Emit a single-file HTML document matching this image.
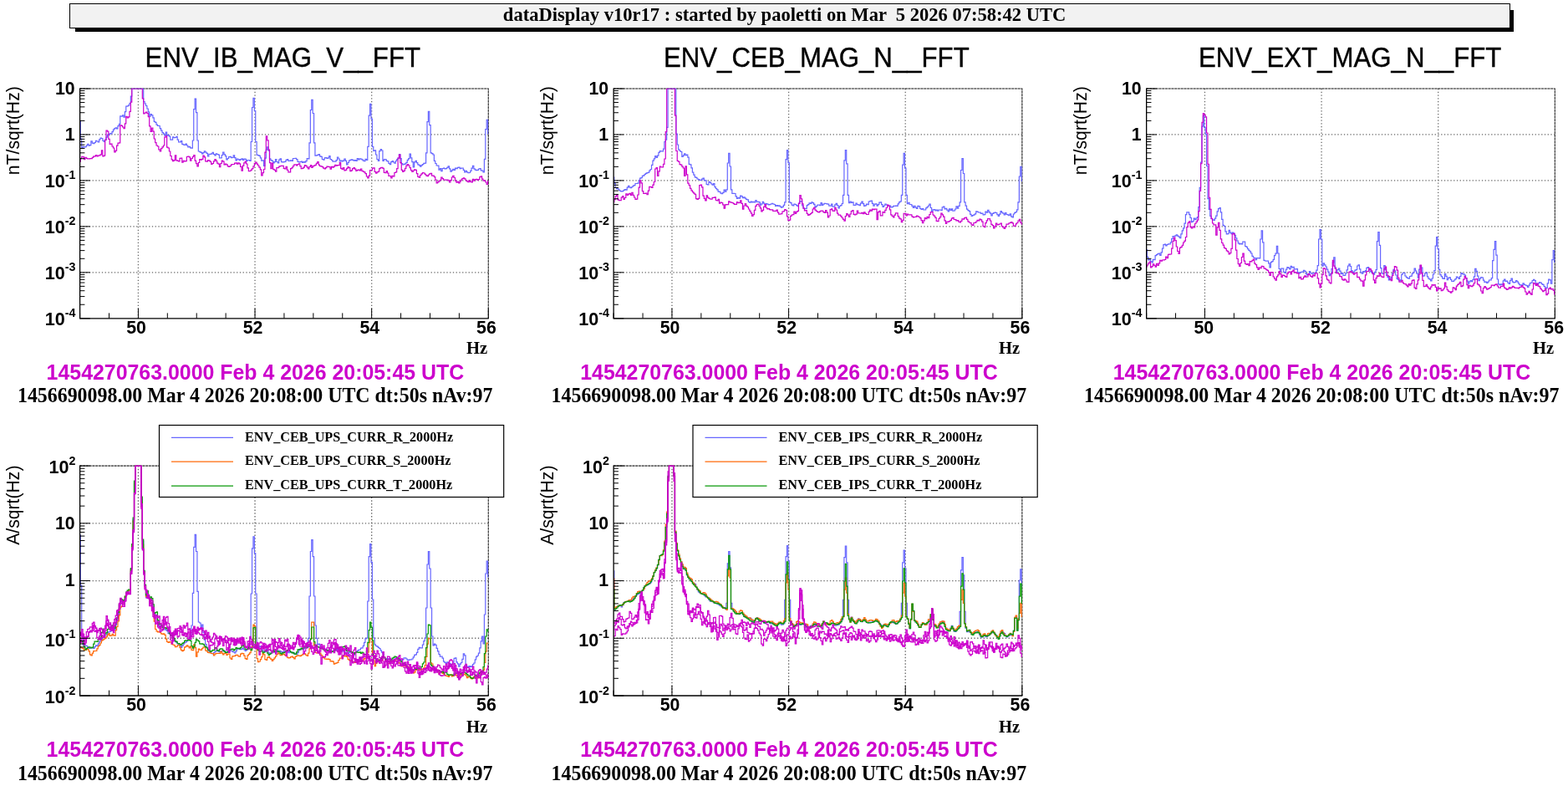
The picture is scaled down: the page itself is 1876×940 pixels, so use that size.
<!DOCTYPE html>
<html lang="en"><head><meta charset="utf-8"><title>dataDisplay</title>
<style>
html,body{margin:0;padding:0;background:#fff;}
body{width:1876px;height:940px;overflow:hidden;}
svg{display:block;}
text{fill:#000;}
.hd{font:bold 22.55px "Liberation Serif",serif;white-space:pre;}
.ti{font:31.2px "Liberation Sans",sans-serif;stroke:#000;stroke-width:0.35px;}
.tk{font:bold 21.3px "Liberation Sans",sans-serif;}
.te{font-size:21.6px;}
.ex{font-size:14.3px;}
.yt{font:21.2px "Liberation Sans",sans-serif;}
.hz{font:bold 20.6px "Liberation Serif",serif;}
.f1{font:bold 24.9px "Liberation Sans",sans-serif;fill:#cc00cc;}
.f2{font:bold 23.9px "Liberation Serif",serif;}
.lg{font:bold 16.2px "Liberation Serif",serif;}
</style></head><body>
<svg width="1876" height="940" viewBox="0 0 1876 940">
<defs>
<clipPath id="c0"><rect x="95.60" y="105.50" width="489.20" height="275.80"/></clipPath>
<clipPath id="c1"><rect x="734.15" y="105.50" width="489.20" height="275.80"/></clipPath>
<clipPath id="c2"><rect x="1371.65" y="105.50" width="489.20" height="275.80"/></clipPath>
<clipPath id="c3"><rect x="95.60" y="556.60" width="489.20" height="275.90"/></clipPath>
<clipPath id="c4"><rect x="734.15" y="556.60" width="489.20" height="275.90"/></clipPath>
</defs>
<rect x="90" y="12" width="1721" height="26" fill="#000"/>
<rect x="83.5" y="4.5" width="1723" height="29" fill="#f2f2f2" stroke="#000" stroke-width="1"/>
<text x="938.6" y="25.3" class="hd" text-anchor="middle" xml:space="preserve">dataDisplay v10r17 : started by paoletti on Mar  5 2026 07:58:42 UTC</text>
<g fill="none">
<path d="M95.60 160.96H584.30M95.60 215.92H584.30M95.60 270.88H584.30M95.60 325.84H584.30M165.41 106.00V380.80M305.04 106.00V380.80M444.67 106.00V380.80" stroke="#000" stroke-opacity="0.6" stroke-width="1.3" stroke-dasharray="1.3 2.45"/>
<path d="M95.60 106.00H584.30V380.80" stroke="#000" stroke-opacity="0.4" stroke-width="1"/>
<path d="M95.60 106.00H584.30V380.80" stroke="#000" stroke-opacity="0.7" stroke-width="1.1" stroke-dasharray="2.6 1.15"/>
</g>
<g fill="none" clip-path="url(#c0)">
<path d="M95.60 145.6H96.30V166.0H97.69V176.7H99.09V175.3H100.49V175.8H101.88V175.6H103.28V173.9H104.68V172.3H106.07V174.2H107.47V173.7H108.86V168.9H110.26V171.2H111.66V171.6H113.05V170.5H114.45V168.3H115.85V169.0H117.24V170.0H118.64V166.9H120.03V165.2H121.43V165.5H122.83V168.1H124.22V169.4H125.62V167.2H127.02V164.2H128.41V161.1H129.81V161.4H131.21V159.6H132.60V159.8H134.00V157.7H135.39V155.2H136.79V153.7H138.19V152.9H139.58V153.8H140.98V150.7H142.38V148.3H143.77V138.9H145.17V139.1H146.56V137.8H147.96V140.2H149.36V133.6H150.75V127.2H152.15V126.8H153.55V125.9H154.94V123.5H156.34V115.1H157.73V106.0H159.13V106.0H160.53V106.0H161.92V106.0H163.32V106.0H164.72V106.0H166.11V106.0H167.51V106.0H168.91V106.0H170.30V106.0H171.70V121.5H173.09V124.0H174.49V126.5H175.89V130.0H177.28V133.8H178.68V139.2H180.08V136.6H181.47V137.8H182.87V140.8H184.26V145.3H185.66V146.4H187.06V149.1H188.45V150.4H189.85V150.5H191.25V153.6H192.64V156.1H194.04V158.7H195.43V160.2H196.83V162.1H198.23V158.0H199.62V162.1H201.02V161.7H202.42V163.1H203.81V167.1H205.21V167.2H206.60V163.9H208.00V164.7H209.40V164.5H210.79V163.4H212.19V167.2H213.59V170.0H214.98V169.9H216.38V168.7H217.78V172.4H219.17V173.1H220.57V173.4H221.96V172.1H223.36V174.0H224.76V175.8H226.15V175.3H227.55V176.8H228.95V177.1H230.34V168.0H231.74V130.7H233.13V118.1H234.53V134.7H235.93V168.0H237.32V181.0H238.72V181.6H240.12V182.3H241.51V183.9H242.91V182.7H244.30V180.9H245.70V182.2H247.10V183.3H248.49V186.8H249.89V184.3H251.29V184.3H252.68V183.8H254.08V182.3H255.47V184.5H256.87V185.8H258.27V183.9H259.66V184.5H261.06V185.2H262.46V189.0H263.85V188.8H265.25V185.5H266.64V182.0H268.04V184.6H269.44V186.7H270.83V190.9H272.23V189.5H273.63V187.7H275.02V187.3H276.42V188.6H277.82V188.4H279.21V185.9H280.61V188.6H282.00V191.8H283.40V190.0H284.80V190.7H286.19V191.6H287.59V190.7H288.99V189.8H290.38V191.3H291.78V190.2H293.17V190.3H294.57V192.7H295.97V191.5H297.36V191.5H298.76V192.4H300.16V169.5H301.55V128.5H302.95V117.3H304.34V132.5H305.74V169.5H307.14V185.4H308.53V185.7H309.93V186.3H311.33V188.8H312.72V192.1H314.12V191.8H315.51V198.5H316.91V189.1H318.31V179.1H319.70V175.8H321.10V180.1H322.50V189.8H323.89V191.7H325.29V192.4H326.69V194.8H328.08V193.6H329.48V190.6H330.87V193.5H332.27V194.8H333.67V191.1H335.06V189.8H336.46V193.7H337.86V194.0H339.25V193.6H340.65V193.4H342.04V191.4H343.44V190.7H344.84V192.3H346.23V192.4H347.63V191.8H349.03V192.3H350.42V189.5H351.82V189.5H353.21V189.3H354.61V190.7H356.01V193.4H357.40V193.8H358.80V193.6H360.20V193.1H361.59V194.3H362.99V193.5H364.38V194.1H365.78V192.6H367.18V189.6H368.57V189.8H369.97V170.9H371.37V131.5H372.76V119.3H374.16V135.5H375.56V170.9H376.95V186.2H378.35V185.8H379.74V185.3H381.14V184.7H382.54V186.8H383.93V187.4H385.33V190.5H386.73V191.1H388.12V188.8H389.52V188.7H390.91V189.5H392.31V188.8H393.71V186.6H395.10V190.5H396.50V191.5H397.90V193.2H399.29V193.1H400.69V193.2H402.08V191.7H403.48V188.0H404.88V190.0H406.27V192.8H407.67V192.2H409.07V192.8H410.46V192.2H411.86V190.1H413.25V192.3H414.65V196.8H416.05V194.5H417.44V192.2H418.84V191.3H420.24V190.8H421.63V191.4H423.03V192.1H424.43V191.7H425.82V192.4H427.22V189.5H428.61V190.9H430.01V189.9H431.41V190.1H432.80V190.9H434.20V192.2H435.60V192.6H436.99V190.4H438.39V191.4H439.78V175.4H441.18V138.2H442.58V124.3H443.97V142.2H445.37V175.4H446.77V180.4H448.16V179.9H449.56V185.0H450.95V190.5H452.35V192.4H453.75V180.6H455.14V178.7H456.54V180.0H457.94V192.3H459.33V190.5H460.73V190.7H462.12V192.3H463.52V192.8H464.92V195.4H466.31V196.7H467.71V193.6H469.11V192.6H470.50V194.0H471.90V195.1H473.30V192.5H474.69V190.6H476.09V189.1H477.48V184.6H478.88V189.7H480.28V195.5H481.67V197.0H483.07V196.4H484.47V195.8H485.86V194.4H487.26V191.4H488.65V189.6H490.05V184.0H491.45V188.9H492.84V193.7H494.24V199.8H495.64V193.9H497.03V192.4H498.43V194.6H499.82V196.8H501.22V197.6H502.62V199.1H504.01V197.7H505.41V196.6H506.81V195.4H508.20V195.1H509.60V182.9H511.00V145.6H512.39V133.3H513.79V149.6H515.18V182.9H516.58V183.7H517.98V185.0H519.37V192.3H520.77V195.5H522.17V198.0H523.56V198.1H524.96V203.2H526.35V201.6H527.75V204.7H529.15V201.5H530.54V201.2H531.94V201.9H533.34V201.7H534.73V200.3H536.13V198.9H537.52V201.8H538.92V205.1H540.32V203.8H541.71V202.3H543.11V203.5H544.51V201.1H545.90V201.6H547.30V200.3H548.69V200.2H550.09V201.7H551.49V201.2H552.88V201.0H554.28V203.3H555.68V205.8H557.07V204.4H558.47V205.9H559.87V206.7H561.26V206.5H562.66V204.4H564.05V201.2H565.45V198.4H566.85V201.8H568.24V203.1H569.64V203.6H571.04V203.4H572.43V202.0H573.83V201.6H575.22V203.8H576.62V204.1H578.02V205.8H579.41V190.3H580.81V154.6H582.21V143.4H583.60V159.8H584.30" stroke="#6666ff" stroke-width="1.2"/>
<path d="M95.60 193.2H96.30V189.7H97.69V187.4H99.09V187.7H100.49V190.6H101.88V188.3H103.28V189.3H104.68V189.9H106.07V189.9H107.47V189.6H108.86V189.7H110.26V188.4H111.66V187.1H113.05V186.9H114.45V185.5H115.85V186.9H117.24V186.2H118.64V185.8H120.03V184.9H121.43V179.9H122.83V187.0H124.22V186.2H125.62V167.5H127.02V156.0H128.41V157.2H129.81V166.4H131.21V172.5H132.60V172.1H134.00V175.0H135.39V177.0H136.79V182.0H138.19V180.2H139.58V174.1H140.98V171.1H142.38V170.8H143.77V149.9H145.17V150.3H146.56V152.0H147.96V153.6H149.36V147.8H150.75V139.4H152.15V141.0H153.55V139.8H154.94V133.3H156.34V122.1H157.73V106.0H159.13V106.0H160.53V106.0H161.92V106.0H163.32V106.0H164.72V106.0H166.11V106.0H167.51V106.0H168.91V106.0H170.30V117.8H171.70V135.9H173.09V135.0H174.49V134.1H175.89V135.5H177.28V139.7H178.68V150.8H180.08V157.5H181.47V153.0H182.87V157.2H184.26V166.0H185.66V170.6H187.06V174.0H188.45V175.0H189.85V178.8H191.25V180.9H192.64V177.6H194.04V175.8H195.43V174.0H196.83V164.1H198.23V162.5H199.62V176.1H201.02V177.0H202.42V181.0H203.81V186.5H205.21V190.8H206.60V192.7H208.00V191.7H209.40V185.9H210.79V191.9H212.19V192.4H213.59V192.9H214.98V189.4H216.38V189.0H217.78V194.1H219.17V192.3H220.57V192.9H221.96V192.7H223.36V187.5H224.76V187.0H226.15V187.9H227.55V192.2H228.95V189.5H230.34V187.5H231.74V185.7H233.13V192.1H234.53V195.7H235.93V198.8H237.32V194.5H238.72V190.6H240.12V191.1H241.51V190.3H242.91V186.1H244.30V187.8H245.70V192.9H247.10V193.1H248.49V191.5H249.89V192.1H251.29V193.3H252.68V196.4H254.08V195.5H255.47V192.9H256.87V190.7H258.27V192.4H259.66V195.1H261.06V196.2H262.46V199.6H263.85V195.5H265.25V192.0H266.64V193.1H268.04V196.8H269.44V196.1H270.83V196.8H272.23V198.8H273.63V199.5H275.02V198.5H276.42V196.9H277.82V196.5H279.21V196.5H280.61V195.1H282.00V194.8H283.40V196.2H284.80V194.9H286.19V195.8H287.59V199.3H288.99V204.1H290.38V198.2H291.78V194.8H293.17V193.2H294.57V196.0H295.97V200.9H297.36V204.6H298.76V204.5H300.16V203.1H301.55V201.7H302.95V198.8H304.34V195.4H305.74V194.2H307.14V196.1H308.53V198.0H309.93V200.1H311.33V202.8H312.72V209.8H314.12V206.7H315.51V202.5H316.91V182.1H318.31V162.8H319.70V167.8H321.10V179.1H322.50V194.6H323.89V201.7H325.29V195.1H326.69V202.4H328.08V203.4H329.48V205.2H330.87V200.5H332.27V200.7H333.67V199.1H335.06V198.5H336.46V198.3H337.86V198.4H339.25V201.4H340.65V201.9H342.04V199.3H343.44V203.4H344.84V205.8H346.23V205.9H347.63V201.6H349.03V200.6H350.42V198.7H351.82V196.8H353.21V196.9H354.61V197.9H356.01V196.5H357.40V195.9H358.80V198.7H360.20V201.7H361.59V201.4H362.99V200.2H364.38V197.7H365.78V198.3H367.18V200.2H368.57V201.9H369.97V199.5H371.37V197.6H372.76V200.5H374.16V198.7H375.56V198.2H376.95V197.3H378.35V195.3H379.74V193.6H381.14V197.1H382.54V198.6H383.93V198.8H385.33V199.7H386.73V201.2H388.12V202.0H389.52V200.7H390.91V199.0H392.31V199.4H393.71V199.6H395.10V202.2H396.50V199.3H397.90V200.1H399.29V199.1H400.69V197.3H402.08V198.1H403.48V197.7H404.88V197.7H406.27V194.6H407.67V201.4H409.07V202.5H410.46V200.5H411.86V204.0H413.25V203.3H414.65V201.3H416.05V199.7H417.44V200.7H418.84V204.7H420.24V203.9H421.63V201.7H423.03V200.5H424.43V202.2H425.82V204.4H427.22V203.4H428.61V203.1H430.01V203.9H431.41V202.0H432.80V204.4H434.20V205.2H435.60V205.9H436.99V207.7H438.39V211.0H439.78V212.8H441.18V210.1H442.58V203.6H443.97V203.5H445.37V201.2H446.77V200.8H448.16V205.3H449.56V207.2H450.95V205.8H452.35V205.1H453.75V201.6H455.14V200.6H456.54V200.3H457.94V201.3H459.33V206.3H460.73V206.7H462.12V204.6H463.52V207.0H464.92V210.3H466.31V210.5H467.71V212.8H469.11V210.3H470.50V211.0H471.90V206.5H473.30V205.9H474.69V201.6H476.09V189.0H477.48V185.0H478.88V194.6H480.28V203.4H481.67V205.5H483.07V204.1H484.47V201.4H485.86V198.2H487.26V196.5H488.65V198.0H490.05V200.7H491.45V203.7H492.84V205.4H494.24V204.0H495.64V202.8H497.03V203.4H498.43V207.6H499.82V211.4H501.22V212.1H502.62V209.5H504.01V207.8H505.41V206.5H506.81V207.0H508.20V208.4H509.60V209.8H511.00V210.7H512.39V209.0H513.79V207.9H515.18V207.4H516.58V210.1H517.98V210.1H519.37V211.7H520.77V215.0H522.17V219.0H523.56V217.8H524.96V216.7H526.35V215.3H527.75V212.0H529.15V213.7H530.54V215.0H531.94V215.1H533.34V215.2H534.73V215.0H536.13V215.8H537.52V218.0H538.92V215.6H540.32V212.0H541.71V210.3H543.11V212.5H544.51V216.2H545.90V218.2H547.30V217.3H548.69V218.9H550.09V216.9H551.49V215.2H552.88V213.6H554.28V212.9H555.68V213.8H557.07V215.7H558.47V216.9H559.87V217.6H561.26V215.6H562.66V217.3H564.05V218.0H565.45V214.3H566.85V216.2H568.24V214.5H569.64V214.4H571.04V215.3H572.43V214.5H573.83V211.6H575.22V210.8H576.62V214.2H578.02V216.1H579.41V215.9H580.81V218.0H582.21V220.3H583.60V216.7H584.30" stroke="#cc00cc" stroke-width="1.2"/>
</g>
<g fill="none">
<path d="M95.60 105.50V380.80H584.80" stroke="#000" stroke-width="1.3"/>
<path d="M95.60 106.00h12.2M95.60 144.42h5.8M95.60 134.74h5.8M95.60 127.87h5.8M95.60 122.54h5.8M95.60 118.19h5.8M95.60 114.51h5.8M95.60 111.33h5.8M95.60 108.51h5.8M95.60 160.96h12.2M95.60 199.38h5.8M95.60 189.70h5.8M95.60 182.83h5.8M95.60 177.50h5.8M95.60 173.15h5.8M95.60 169.47h5.8M95.60 166.29h5.8M95.60 163.47h5.8M95.60 215.92h12.2M95.60 254.34h5.8M95.60 244.66h5.8M95.60 237.79h5.8M95.60 232.46h5.8M95.60 228.11h5.8M95.60 224.43h5.8M95.60 221.25h5.8M95.60 218.43h5.8M95.60 270.88h12.2M95.60 309.30h5.8M95.60 299.62h5.8M95.60 292.75h5.8M95.60 287.42h5.8M95.60 283.07h5.8M95.60 279.39h5.8M95.60 276.21h5.8M95.60 273.39h5.8M95.60 325.84h12.2M95.60 364.26h5.8M95.60 354.58h5.8M95.60 347.71h5.8M95.60 342.38h5.8M95.60 338.03h5.8M95.60 334.35h5.8M95.60 331.17h5.8M95.60 328.35h5.8M95.60 380.80h12.2M95.60 380.80v-6.4M130.51 380.80v-6.4M165.41 380.80v-12.2M200.32 380.80v-6.4M235.23 380.80v-6.4M270.14 380.80v-6.4M305.04 380.80v-12.2M339.95 380.80v-6.4M374.86 380.80v-6.4M409.76 380.80v-6.4M444.67 380.80v-12.2M479.58 380.80v-6.4M514.49 380.80v-6.4M549.39 380.80v-6.4M584.30 380.80v-12.2" stroke="#000" stroke-width="1"/>
<text x="89.6" y="112.7" class="tk" text-anchor="end">10</text>
<text x="89.6" y="167.7" class="tk" text-anchor="end">1</text>
<text x="90.4" y="224.2" class="tk te" text-anchor="end">10<tspan class="ex" dy="-10.1">-1</tspan></text>
<text x="90.4" y="279.2" class="tk te" text-anchor="end">10<tspan class="ex" dy="-10.1">-2</tspan></text>
<text x="90.4" y="334.1" class="tk te" text-anchor="end">10<tspan class="ex" dy="-10.1">-3</tspan></text>
<text x="90.4" y="389.1" class="tk te" text-anchor="end">10<tspan class="ex" dy="-10.1">-4</tspan></text>
<text x="163.0" y="399.0" class="tk" text-anchor="middle">50</text>
<text x="302.6" y="399.0" class="tk" text-anchor="middle">52</text>
<text x="442.3" y="399.0" class="tk" text-anchor="middle">54</text>
<text x="581.9" y="399.0" class="tk" text-anchor="middle">56</text>
<text x="583.1" y="423.2" class="hz" text-anchor="end">Hz</text>
<text class="yt" text-anchor="end" transform="translate(23.4 103.2) rotate(-90) scale(1 1.08)">nT/sqrt(Hz)</text>
</g>
<text class="ti" text-anchor="middle" transform="translate(338.3 80.1) scale(1 1.085)">ENV_IB_MAG_V__FFT</text>
<text x="305.4" y="453.8" class="f1" text-anchor="middle">1454270763.0000 Feb 4 2026 20:05:45 UTC</text>
<text class="f2" text-anchor="middle" transform="translate(305.2 480.6) scale(1 1.04)">1456690098.00 Mar 4 2026 20:08:00 UTC dt:50s nAv:97</text>
<g fill="none">
<path d="M734.15 160.96H1222.85M734.15 215.92H1222.85M734.15 270.88H1222.85M734.15 325.84H1222.85M803.96 106.00V380.80M943.59 106.00V380.80M1083.22 106.00V380.80" stroke="#000" stroke-opacity="0.6" stroke-width="1.3" stroke-dasharray="1.3 2.45"/>
<path d="M734.15 106.00H1222.85V380.80" stroke="#000" stroke-opacity="0.4" stroke-width="1"/>
<path d="M734.15 106.00H1222.85V380.80" stroke="#000" stroke-opacity="0.7" stroke-width="1.1" stroke-dasharray="2.6 1.15"/>
</g>
<g fill="none" clip-path="url(#c1)">
<path d="M734.15 212.0H734.85V219.5H736.24V224.5H737.64V225.6H739.04V226.0H740.43V227.3H741.83V228.6H743.23V228.8H744.62V228.7H746.02V227.4H747.41V226.7H748.81V227.1H750.21V224.2H751.60V222.3H753.00V224.1H754.40V224.6H755.79V223.5H757.19V222.1H758.59V221.6H759.98V219.5H761.38V219.5H762.77V219.1H764.17V215.8H765.57V213.1H766.96V212.7H768.36V210.3H769.76V209.8H771.15V208.4H772.55V207.3H773.94V206.6H775.34V206.3H776.74V204.1H778.13V202.5H779.53V197.3H780.93V192.1H782.32V189.9H783.72V186.7H785.11V188.3H786.51V186.2H787.91V182.3H789.30V180.7H790.70V180.8H792.10V180.8H793.49V178.1H794.89V169.5H796.28V167.1H797.68V152.4H799.08V106.0H800.47V106.0H801.87V106.0H803.27V106.0H804.66V106.0H806.06V106.0H807.45V106.0H808.85V160.1H810.25V173.0H811.64V178.8H813.04V180.5H814.44V181.5H815.83V187.5H817.23V185.9H818.63V183.9H820.02V185.6H821.42V185.2H822.81V188.2H824.21V196.4H825.61V196.9H827.00V200.8H828.40V206.2H829.80V209.1H831.19V211.8H832.59V212.3H833.98V214.0H835.38V214.7H836.78V215.4H838.17V215.5H839.57V214.1H840.97V213.2H842.36V215.8H843.76V215.9H845.15V220.5H846.55V221.0H847.95V217.4H849.34V218.3H850.74V220.0H852.14V221.2H853.53V219.7H854.93V223.6H856.33V225.5H857.72V226.8H859.12V229.2H860.51V229.3H861.91V231.1H863.31V231.7H864.70V230.3H866.10V227.0H867.50V229.1H868.89V226.9H870.29V195.0H871.68V183.3H873.08V199.0H874.48V226.9H875.87V231.5H877.27V231.4H878.67V231.5H880.06V234.8H881.46V237.3H882.85V236.3H884.25V237.2H885.65V234.2H887.04V234.9H888.44V236.6H889.84V235.8H891.23V237.2H892.63V238.3H894.02V238.8H895.42V241.5H896.82V242.1H898.21V241.2H899.61V241.8H901.01V241.4H902.40V241.9H903.80V239.5H905.19V241.5H906.59V241.3H907.99V241.9H909.38V245.2H910.78V243.9H912.18V241.4H913.57V243.1H914.97V244.6H916.37V243.6H917.76V244.1H919.16V244.8H920.55V244.7H921.95V244.0H923.35V243.3H924.74V244.0H926.14V244.5H927.54V246.3H928.93V245.6H930.33V246.4H931.72V245.9H933.12V247.2H934.52V248.1H935.91V247.4H937.31V245.3H938.71V241.8H940.10V190.7H941.50V179.7H942.89V194.7H944.29V241.8H945.69V242.6H947.08V245.1H948.48V245.9H949.88V244.2H951.27V244.5H952.67V245.6H954.07V246.7H955.46V243.1H956.86V240.6H958.25V240.8H959.65V246.0H961.05V249.0H962.44V249.7H963.84V249.4H965.24V245.7H966.63V244.6H968.03V242.9H969.42V243.4H970.82V241.9H972.22V242.6H973.61V244.3H975.01V247.8H976.41V246.6H977.80V245.0H979.20V245.2H980.59V245.6H981.99V242.6H983.39V245.3H984.78V244.2H986.18V243.4H987.58V243.5H988.97V243.9H990.37V244.1H991.76V246.1H993.16V246.1H994.56V244.2H995.95V247.1H997.35V247.1H998.75V244.8H1000.14V243.3H1001.54V245.5H1002.93V249.0H1004.33V246.5H1005.73V245.6H1007.12V243.5H1008.52V233.3H1009.92V191.8H1011.31V179.7H1012.71V195.8H1014.11V233.3H1015.50V242.7H1016.90V241.0H1018.29V242.3H1019.69V241.9H1021.09V245.3H1022.48V245.5H1023.88V243.1H1025.28V244.7H1026.67V244.9H1028.07V245.6H1029.46V243.1H1030.86V241.2H1032.26V243.6H1033.65V246.4H1035.05V245.9H1036.45V244.0H1037.84V244.6H1039.24V241.0H1040.63V240.6H1042.03V240.0H1043.43V243.4H1044.82V246.1H1046.22V244.2H1047.62V243.9H1049.01V246.2H1050.41V244.6H1051.81V242.2H1053.20V241.9H1054.60V244.6H1055.99V247.3H1057.39V246.0H1058.79V244.0H1060.18V245.0H1061.58V245.5H1062.98V246.4H1064.37V246.1H1065.77V247.9H1067.16V247.7H1068.56V246.4H1069.96V246.3H1071.35V246.0H1072.75V246.4H1074.15V243.8H1075.54V241.8H1076.94V240.9H1078.33V233.3H1079.73V197.1H1081.13V183.3H1082.52V201.1H1083.92V233.3H1085.32V243.6H1086.71V242.3H1088.11V244.5H1089.50V244.5H1090.90V246.4H1092.30V248.3H1093.69V246.4H1095.09V248.1H1096.49V249.4H1097.88V246.3H1099.28V246.8H1100.67V249.5H1102.07V250.4H1103.47V249.5H1104.86V251.0H1106.26V251.0H1107.66V248.8H1109.05V247.7H1110.45V246.0H1111.85V244.0H1113.24V248.5H1114.64V253.0H1116.03V250.8H1117.43V250.5H1118.83V251.8H1120.22V251.2H1121.62V252.2H1123.02V251.0H1124.41V251.0H1125.81V251.4H1127.20V247.8H1128.60V247.1H1130.00V249.9H1131.39V249.4H1132.79V251.2H1134.19V252.8H1135.58V249.9H1136.98V251.4H1138.37V249.8H1139.77V252.1H1141.17V252.0H1142.56V250.0H1143.96V246.9H1145.36V249.2H1146.75V246.3H1148.15V241.8H1149.55V203.5H1150.94V189.7H1152.34V207.5H1153.73V241.8H1155.13V246.2H1156.53V250.1H1157.92V251.7H1159.32V252.6H1160.72V256.3H1162.11V258.5H1163.51V257.7H1164.90V256.8H1166.30V255.9H1167.70V252.9H1169.09V253.4H1170.49V254.0H1171.89V254.1H1173.28V255.5H1174.68V255.0H1176.07V256.8H1177.47V256.7H1178.87V253.0H1180.26V254.1H1181.66V251.4H1183.06V253.6H1184.45V255.1H1185.85V257.9H1187.24V255.3H1188.64V254.7H1190.04V254.2H1191.43V254.5H1192.83V256.7H1194.23V258.5H1195.62V256.1H1197.02V252.6H1198.41V254.1H1199.81V255.1H1201.21V257.0H1202.60V254.5H1204.00V256.5H1205.40V256.9H1206.79V257.6H1208.19V255.8H1209.59V258.8H1210.98V260.0H1212.38V256.0H1213.77V254.3H1215.17V253.5H1216.57V250.9H1217.96V241.8H1219.36V211.0H1220.76V199.3H1222.15V216.3H1222.85" stroke="#6666ff" stroke-width="1.2"/>
<path d="M734.15 241.7H734.85V238.6H736.24V234.6H737.64V233.4H739.04V238.9H740.43V239.6H741.83V239.6H743.23V236.1H744.62V234.6H746.02V238.5H747.41V236.5H748.81V231.9H750.21V233.5H751.60V232.2H753.00V231.3H754.40V233.3H755.79V230.4H757.19V233.3H758.59V236.0H759.98V238.4H761.38V238.2H762.77V233.0H764.17V224.1H765.57V215.8H766.96V218.9H768.36V228.6H769.76V231.3H771.15V231.3H772.55V231.0H773.94V232.7H775.34V228.2H776.74V223.4H778.13V223.7H779.53V224.3H780.93V221.1H782.32V217.5H783.72V202.0H785.11V200.7H786.51V210.4H787.91V204.8H789.30V199.2H790.70V200.0H792.10V199.9H793.49V196.4H794.89V190.0H796.28V157.6H797.68V106.0H799.08V106.0H800.47V106.0H801.87V106.0H803.27V106.0H804.66V106.0H806.06V106.0H807.45V138.2H808.85V180.5H810.25V192.3H811.64V193.3H813.04V196.6H814.44V197.2H815.83V199.1H817.23V201.0H818.63V210.3H820.02V198.9H821.42V208.8H822.81V219.1H824.21V221.6H825.61V225.3H827.00V227.8H828.40V229.6H829.80V231.1H831.19V232.3H832.59V237.6H833.98V238.4H835.38V237.4H836.78V221.6H838.17V221.1H839.57V223.9H840.97V234.1H842.36V237.4H843.76V239.9H845.15V233.8H846.55V236.2H847.95V237.4H849.34V238.0H850.74V238.1H852.14V236.4H853.53V236.4H854.93V235.8H856.33V239.5H857.72V239.9H859.12V238.3H860.51V243.1H861.91V242.1H863.31V242.5H864.70V244.9H866.10V249.1H867.50V244.9H868.89V244.6H870.29V244.7H871.68V240.9H873.08V241.8H874.48V242.1H875.87V242.5H877.27V243.7H878.67V244.3H880.06V244.4H881.46V241.7H882.85V242.6H884.25V242.3H885.65V239.8H887.04V243.3H888.44V250.1H889.84V246.0H891.23V243.6H892.63V246.2H894.02V247.5H895.42V250.0H896.82V252.3H898.21V254.8H899.61V258.3H901.01V256.6H902.40V251.4H903.80V246.4H905.19V244.5H906.59V244.2H907.99V246.5H909.38V248.8H910.78V253.0H912.18V251.4H913.57V247.4H914.97V244.5H916.37V248.5H917.76V249.9H919.16V249.6H920.55V250.7H921.95V251.0H923.35V250.9H924.74V252.4H926.14V252.3H927.54V252.5H928.93V251.2H930.33V254.2H931.72V256.1H933.12V256.0H934.52V255.7H935.91V253.0H937.31V252.6H938.71V250.5H940.10V251.5H941.50V258.8H942.89V263.6H944.29V263.1H945.69V258.4H947.08V257.0H948.48V256.6H949.88V253.0H951.27V255.4H952.67V253.4H954.07V252.4H955.46V243.3H956.86V233.5H958.25V237.9H959.65V243.9H961.05V249.1H962.44V252.0H963.84V251.7H965.24V255.3H966.63V257.4H968.03V256.6H969.42V255.6H970.82V254.3H972.22V250.0H973.61V248.3H975.01V251.2H976.41V252.3H977.80V253.3H979.20V253.9H980.59V252.9H981.99V252.2H983.39V252.2H984.78V253.7H986.18V254.5H987.58V251.6H988.97V254.1H990.37V259.8H991.76V258.0H993.16V250.7H994.56V249.8H995.95V252.2H997.35V252.4H998.75V248.4H1000.14V251.0H1001.54V255.1H1002.93V257.1H1004.33V257.2H1005.73V258.6H1007.12V260.5H1008.52V262.4H1009.92V264.1H1011.31V258.5H1012.71V255.7H1014.11V257.1H1015.50V259.3H1016.90V256.0H1018.29V252.7H1019.69V251.5H1021.09V256.4H1022.48V256.9H1023.88V256.2H1025.28V252.1H1026.67V254.8H1028.07V255.0H1029.46V255.2H1030.86V254.3H1032.26V255.7H1033.65V253.9H1035.05V255.4H1036.45V256.5H1037.84V256.5H1039.24V253.1H1040.63V251.2H1042.03V252.1H1043.43V250.1H1044.82V250.7H1046.22V250.2H1047.62V250.1H1049.01V262.6H1050.41V253.6H1051.81V252.4H1053.20V257.8H1054.60V257.8H1055.99V253.5H1057.39V254.2H1058.79V251.4H1060.18V248.5H1061.58V245.0H1062.98V246.4H1064.37V250.9H1065.77V256.8H1067.16V258.4H1068.56V259.9H1069.96V257.2H1071.35V254.8H1072.75V254.9H1074.15V258.7H1075.54V260.8H1076.94V261.8H1078.33V265.6H1079.73V263.4H1081.13V255.3H1082.52V255.4H1083.92V258.0H1085.32V256.0H1086.71V257.0H1088.11V256.9H1089.50V256.8H1090.90V258.9H1092.30V259.9H1093.69V259.5H1095.09V259.3H1096.49V258.1H1097.88V258.8H1099.28V259.5H1100.67V260.8H1102.07V263.7H1103.47V266.7H1104.86V263.9H1106.26V260.5H1107.66V261.6H1109.05V259.4H1110.45V260.7H1111.85V256.5H1113.24V253.6H1114.64V253.7H1116.03V257.0H1117.43V258.3H1118.83V260.3H1120.22V264.3H1121.62V264.6H1123.02V261.5H1124.41V259.7H1125.81V255.1H1127.20V256.9H1128.60V259.1H1130.00V263.9H1131.39V267.3H1132.79V265.1H1134.19V265.3H1135.58V264.5H1136.98V263.3H1138.37V261.2H1139.77V260.4H1141.17V262.5H1142.56V262.6H1143.96V263.9H1145.36V263.6H1146.75V265.2H1148.15V266.0H1149.55V264.3H1150.94V261.8H1152.34V262.2H1153.73V260.6H1155.13V260.2H1156.53V262.3H1157.92V264.8H1159.32V266.0H1160.72V266.6H1162.11V268.9H1163.51V269.4H1164.90V266.5H1166.30V266.3H1167.70V265.0H1169.09V263.3H1170.49V263.9H1171.89V262.2H1173.28V262.8H1174.68V265.1H1176.07V270.5H1177.47V271.7H1178.87V266.7H1180.26V263.8H1181.66V261.7H1183.06V261.5H1184.45V264.0H1185.85V268.3H1187.24V269.7H1188.64V273.0H1190.04V270.9H1191.43V267.2H1192.83V268.8H1194.23V268.4H1195.62V268.0H1197.02V267.2H1198.41V270.6H1199.81V271.8H1201.21V273.3H1202.60V271.1H1204.00V268.0H1205.40V268.2H1206.79V267.0H1208.19V266.3H1209.59V265.7H1210.98V266.9H1212.38V270.1H1213.77V270.5H1215.17V267.8H1216.57V266.5H1217.96V264.1H1219.36V262.4H1220.76V266.2H1222.15V268.2H1222.85" stroke="#cc00cc" stroke-width="1.2"/>
</g>
<g fill="none">
<path d="M734.15 105.50V380.80H1223.35" stroke="#000" stroke-width="1.3"/>
<path d="M734.15 106.00h12.2M734.15 144.42h5.8M734.15 134.74h5.8M734.15 127.87h5.8M734.15 122.54h5.8M734.15 118.19h5.8M734.15 114.51h5.8M734.15 111.33h5.8M734.15 108.51h5.8M734.15 160.96h12.2M734.15 199.38h5.8M734.15 189.70h5.8M734.15 182.83h5.8M734.15 177.50h5.8M734.15 173.15h5.8M734.15 169.47h5.8M734.15 166.29h5.8M734.15 163.47h5.8M734.15 215.92h12.2M734.15 254.34h5.8M734.15 244.66h5.8M734.15 237.79h5.8M734.15 232.46h5.8M734.15 228.11h5.8M734.15 224.43h5.8M734.15 221.25h5.8M734.15 218.43h5.8M734.15 270.88h12.2M734.15 309.30h5.8M734.15 299.62h5.8M734.15 292.75h5.8M734.15 287.42h5.8M734.15 283.07h5.8M734.15 279.39h5.8M734.15 276.21h5.8M734.15 273.39h5.8M734.15 325.84h12.2M734.15 364.26h5.8M734.15 354.58h5.8M734.15 347.71h5.8M734.15 342.38h5.8M734.15 338.03h5.8M734.15 334.35h5.8M734.15 331.17h5.8M734.15 328.35h5.8M734.15 380.80h12.2M734.15 380.80v-6.4M769.06 380.80v-6.4M803.96 380.80v-12.2M838.87 380.80v-6.4M873.78 380.80v-6.4M908.69 380.80v-6.4M943.59 380.80v-12.2M978.50 380.80v-6.4M1013.41 380.80v-6.4M1048.31 380.80v-6.4M1083.22 380.80v-12.2M1118.13 380.80v-6.4M1153.04 380.80v-6.4M1187.94 380.80v-6.4M1222.85 380.80v-12.2" stroke="#000" stroke-width="1"/>
<text x="728.1" y="112.7" class="tk" text-anchor="end">10</text>
<text x="728.1" y="167.7" class="tk" text-anchor="end">1</text>
<text x="728.9" y="224.2" class="tk te" text-anchor="end">10<tspan class="ex" dy="-10.1">-1</tspan></text>
<text x="728.9" y="279.2" class="tk te" text-anchor="end">10<tspan class="ex" dy="-10.1">-2</tspan></text>
<text x="728.9" y="334.1" class="tk te" text-anchor="end">10<tspan class="ex" dy="-10.1">-3</tspan></text>
<text x="728.9" y="389.1" class="tk te" text-anchor="end">10<tspan class="ex" dy="-10.1">-4</tspan></text>
<text x="801.6" y="399.0" class="tk" text-anchor="middle">50</text>
<text x="941.2" y="399.0" class="tk" text-anchor="middle">52</text>
<text x="1080.8" y="399.0" class="tk" text-anchor="middle">54</text>
<text x="1220.4" y="399.0" class="tk" text-anchor="middle">56</text>
<text x="1220.1" y="423.2" class="hz" text-anchor="end">Hz</text>
<text class="yt" text-anchor="end" transform="translate(661.9 103.2) rotate(-90) scale(1 1.08)">nT/sqrt(Hz)</text>
</g>
<text class="ti" text-anchor="middle" transform="translate(976.8 80.1) scale(1 1.085)">ENV_CEB_MAG_N__FFT</text>
<text x="944.0" y="453.8" class="f1" text-anchor="middle">1454270763.0000 Feb 4 2026 20:05:45 UTC</text>
<text class="f2" text-anchor="middle" transform="translate(943.8 480.6) scale(1 1.04)">1456690098.00 Mar 4 2026 20:08:00 UTC dt:50s nAv:97</text>
<g fill="none">
<path d="M1371.65 160.96H1860.35M1371.65 215.92H1860.35M1371.65 270.88H1860.35M1371.65 325.84H1860.35M1441.46 106.00V380.80M1581.09 106.00V380.80M1720.72 106.00V380.80" stroke="#000" stroke-opacity="0.6" stroke-width="1.3" stroke-dasharray="1.3 2.45"/>
<path d="M1371.65 106.00H1860.35V380.80" stroke="#000" stroke-opacity="0.4" stroke-width="1"/>
<path d="M1371.65 106.00H1860.35V380.80" stroke="#000" stroke-opacity="0.7" stroke-width="1.1" stroke-dasharray="2.6 1.15"/>
</g>
<g fill="none" clip-path="url(#c2)">
<path d="M1371.65 298.5H1372.35V307.3H1373.74V310.8H1375.14V310.4H1376.54V312.5H1377.93V313.8H1379.33V310.4H1380.73V310.7H1382.12V305.7H1383.52V304.6H1384.91V303.7H1386.31V303.0H1387.71V305.4H1389.10V301.8H1390.50V297.2H1391.90V292.6H1393.29V292.2H1394.69V293.9H1396.09V292.5H1397.48V291.8H1398.88V292.0H1400.27V289.9H1401.67V285.6H1403.07V282.6H1404.46V282.7H1405.86V281.8H1407.26V280.8H1408.65V282.1H1410.05V283.1H1411.44V284.6H1412.84V279.8H1414.24V275.8H1415.63V272.9H1417.03V267.1H1418.43V256.6H1419.82V253.8H1421.22V253.8H1422.61V256.6H1424.01V260.5H1425.41V265.6H1426.80V264.6H1428.20V261.1H1429.60V262.6H1430.99V261.0H1432.39V259.5H1433.78V247.6H1435.18V224.3H1436.58V194.0H1437.97V151.2H1439.37V138.7H1440.77V152.6H1442.16V160.7H1443.56V198.3H1444.96V237.7H1446.35V250.3H1447.75V258.4H1449.14V261.6H1450.54V262.8H1451.94V263.3H1453.33V261.1H1454.73V258.1H1456.13V252.9H1457.52V249.7H1458.92V248.5H1460.31V253.9H1461.71V262.3H1463.11V269.4H1464.50V270.5H1465.90V276.9H1467.30V279.8H1468.69V279.7H1470.09V275.4H1471.48V278.1H1472.88V279.6H1474.28V278.2H1475.67V279.2H1477.07V281.4H1478.47V284.9H1479.86V288.0H1481.26V290.9H1482.65V291.9H1484.05V291.4H1485.45V291.8H1486.84V289.2H1488.24V289.0H1489.64V294.5H1491.03V295.4H1492.43V297.7H1493.83V299.4H1495.22V300.9H1496.62V303.0H1498.01V306.4H1499.41V308.0H1500.81V308.6H1502.20V310.7H1503.60V308.7H1505.00V308.6H1506.39V308.8H1507.79V286.0H1509.18V275.8H1510.58V289.9H1511.98V311.4H1513.37V312.0H1514.77V312.1H1516.17V312.0H1517.56V314.9H1518.96V319.9H1520.35V313.6H1521.75V312.6H1523.15V310.3H1524.54V305.6H1525.94V303.2H1527.34V294.3H1528.73V303.0H1530.13V321.5H1531.52V324.8H1532.92V321.1H1534.32V321.0H1535.71V325.3H1537.11V326.4H1538.51V322.1H1539.90V319.7H1541.30V320.4H1542.70V321.9H1544.09V318.4H1545.49V319.8H1546.88V319.3H1548.28V321.8H1549.68V321.9H1551.07V321.6H1552.47V325.9H1553.87V326.8H1555.26V325.6H1556.66V325.3H1558.05V325.1H1559.45V323.4H1560.85V324.3H1562.24V327.3H1563.64V328.9H1565.04V328.3H1566.43V324.7H1567.83V326.6H1569.22V327.2H1570.62V326.8H1572.02V326.7H1573.41V326.1H1574.81V323.2H1576.21V317.7H1577.60V286.0H1579.00V274.5H1580.39V286.0H1581.79V318.2H1583.19V314.8H1584.58V316.9H1585.98V319.0H1587.38V322.2H1588.77V325.1H1590.17V329.7H1591.57V327.7H1592.96V321.7H1594.36V313.8H1595.75V307.8H1597.15V320.2H1598.55V325.5H1599.94V322.6H1601.34V321.0H1602.74V324.1H1604.13V327.3H1605.53V326.7H1606.92V329.4H1608.32V329.4H1609.72V326.8H1611.11V322.8H1612.51V318.0H1613.91V315.9H1615.30V318.5H1616.70V323.6H1618.09V326.2H1619.49V325.0H1620.89V323.2H1622.28V322.7H1623.68V318.0H1625.08V316.9H1626.47V321.9H1627.87V325.9H1629.26V327.1H1630.66V324.5H1632.06V325.1H1633.45V323.7H1634.85V320.3H1636.25V319.7H1637.64V322.6H1639.04V324.5H1640.44V325.7H1641.83V326.7H1643.23V328.1H1644.62V325.3H1646.02V322.7H1647.42V288.6H1648.81V277.5H1650.21V293.4H1651.61V320.7H1653.00V327.0H1654.40V327.4H1655.79V317.5H1657.19V322.8H1658.59V329.4H1659.98V331.7H1661.38V334.9H1662.78V333.8H1664.17V331.4H1665.57V326.8H1666.96V322.4H1668.36V323.9H1669.76V329.0H1671.15V333.3H1672.55V334.5H1673.95V335.9H1675.34V334.8H1676.74V328.3H1678.13V326.5H1679.53V326.4H1680.93V330.0H1682.32V331.6H1683.72V332.6H1685.12V333.1H1686.51V330.5H1687.91V330.1H1689.31V327.1H1690.70V325.9H1692.10V321.1H1693.49V324.0H1694.89V327.2H1696.29V332.1H1697.68V322.1H1699.08V317.7H1700.48V320.1H1701.87V330.1H1703.27V329.9H1704.66V326.8H1706.06V325.8H1707.46V330.9H1708.85V333.2H1710.25V334.1H1711.65V336.0H1713.04V333.0H1714.44V328.0H1715.83V323.6H1717.23V294.1H1718.63V283.7H1720.02V297.6H1721.42V322.4H1722.82V328.7H1724.21V330.6H1725.61V332.8H1727.00V333.3H1728.40V327.7H1729.80V330.3H1731.19V334.7H1732.59V332.3H1733.99V331.8H1735.38V334.4H1736.78V336.4H1738.18V336.4H1739.57V335.0H1740.97V333.6H1742.36V331.2H1743.76V331.8H1745.16V333.4H1746.55V330.5H1747.95V326.7H1749.35V327.6H1750.74V327.9H1752.14V329.1H1753.53V332.6H1754.93V336.1H1756.33V339.2H1757.72V336.9H1759.12V335.5H1760.52V336.7H1761.91V334.4H1763.31V330.9H1764.70V321.4H1766.10V324.4H1767.50V330.1H1768.89V335.7H1770.29V333.1H1771.69V331.5H1773.08V332.0H1774.48V335.2H1775.87V337.4H1777.27V337.0H1778.67V338.3H1780.06V337.0H1781.46V335.0H1782.86V334.9H1784.25V332.6H1785.65V311.7H1787.05V298.3H1788.44V288.6H1789.84V305.2H1791.23V334.0H1792.63V339.9H1794.03V340.7H1795.42V339.9H1796.82V340.3H1798.22V335.9H1799.61V334.2H1801.01V336.3H1802.40V336.1H1803.80V338.1H1805.20V339.3H1806.59V335.5H1807.99V333.1H1809.39V337.1H1810.78V337.9H1812.18V337.5H1813.57V335.5H1814.97V336.9H1816.37V338.9H1817.76V340.6H1819.16V341.2H1820.56V340.8H1821.95V338.9H1823.35V340.3H1824.74V341.0H1826.14V341.7H1827.54V343.4H1828.93V341.2H1830.33V338.7H1831.73V338.2H1833.12V335.5H1834.52V334.4H1835.92V335.7H1837.31V339.1H1838.71V340.3H1840.10V339.0H1841.50V337.5H1842.90V338.2H1844.29V339.7H1845.69V340.4H1847.09V342.5H1848.48V344.1H1849.88V344.3H1851.27V338.9H1852.67V334.2H1854.07V334.9H1855.46V339.2H1856.86V310.7H1858.26V299.7H1859.65V313.5H1860.35" stroke="#6666ff" stroke-width="1.2"/>
<path d="M1371.65 318.9H1372.35V317.0H1373.74V314.9H1375.14V313.0H1376.54V319.9H1377.93V318.7H1379.33V315.8H1380.73V317.4H1382.12V319.1H1383.52V315.3H1384.91V317.5H1386.31V314.9H1387.71V311.3H1389.10V312.1H1390.50V311.0H1391.90V310.9H1393.29V310.5H1394.69V307.1H1396.09V308.7H1397.48V304.3H1398.88V304.1H1400.27V304.0H1401.67V297.2H1403.07V288.4H1404.46V284.0H1405.86V287.6H1407.26V295.0H1408.65V300.5H1410.05V303.4H1411.44V296.3H1412.84V295.3H1414.24V293.3H1415.63V290.0H1417.03V288.2H1418.43V283.5H1419.82V271.7H1421.22V266.4H1422.61V264.9H1424.01V271.7H1425.41V273.0H1426.80V271.0H1428.20V271.9H1429.60V267.5H1430.99V265.3H1432.39V263.2H1433.78V252.6H1435.18V228.4H1436.58V195.7H1437.97V146.4H1439.37V135.5H1440.77V137.7H1442.16V139.8H1443.56V159.0H1444.96V196.3H1446.35V236.4H1447.75V250.3H1449.14V261.3H1450.54V267.0H1451.94V269.0H1453.33V268.9H1454.73V281.2H1456.13V271.8H1457.52V266.3H1458.92V275.3H1460.31V285.8H1461.71V290.5H1463.11V293.2H1464.50V296.4H1465.90V297.4H1467.30V299.9H1468.69V300.8H1470.09V303.9H1471.48V302.7H1472.88V297.3H1474.28V279.9H1475.67V279.4H1477.07V286.9H1478.47V299.2H1479.86V309.5H1481.26V315.7H1482.65V318.4H1484.05V314.5H1485.45V307.5H1486.84V303.2H1488.24V312.2H1489.64V315.5H1491.03V316.3H1492.43V315.5H1493.83V317.7H1495.22V312.7H1496.62V312.8H1498.01V311.4H1499.41V310.1H1500.81V315.1H1502.20V316.6H1503.60V319.9H1505.00V322.4H1506.39V320.0H1507.79V320.7H1509.18V318.4H1510.58V318.6H1511.98V320.8H1513.37V321.3H1514.77V322.7H1516.17V323.4H1517.56V325.7H1518.96V329.3H1520.35V325.7H1521.75V325.6H1523.15V331.0H1524.54V333.2H1525.94V335.1H1527.34V330.9H1528.73V328.8H1530.13V324.6H1531.52V327.6H1532.92V331.3H1534.32V329.1H1535.71V329.3H1537.11V330.5H1538.51V331.4H1539.90V327.2H1541.30V325.3H1542.70V325.2H1544.09V327.8H1545.49V324.7H1546.88V323.1H1548.28V325.9H1549.68V325.5H1551.07V326.8H1552.47V326.6H1553.87V332.7H1555.26V331.4H1556.66V333.9H1558.05V333.6H1559.45V331.3H1560.85V329.8H1562.24V331.1H1563.64V331.0H1565.04V327.6H1566.43V328.7H1567.83V330.4H1569.22V331.3H1570.62V328.8H1572.02V329.8H1573.41V326.5H1574.81V327.0H1576.21V332.9H1577.60V339.1H1579.00V343.9H1580.39V339.1H1581.79V328.4H1583.19V320.9H1584.58V321.4H1585.98V329.8H1587.38V334.1H1588.77V335.2H1590.17V338.0H1591.57V338.9H1592.96V326.9H1594.36V311.3H1595.75V318.2H1597.15V321.2H1598.55V326.6H1599.94V326.5H1601.34V327.7H1602.74V330.3H1604.13V330.9H1605.53V334.2H1606.92V335.1H1608.32V333.9H1609.72V335.0H1611.11V337.2H1612.51V337.4H1613.91V325.3H1615.30V324.7H1616.70V325.4H1618.09V326.8H1619.49V328.1H1620.89V326.7H1622.28V326.4H1623.68V331.7H1625.08V331.3H1626.47V333.9H1627.87V335.8H1629.26V336.2H1630.66V342.2H1632.06V334.8H1633.45V328.8H1634.85V324.5H1636.25V324.5H1637.64V321.1H1639.04V321.9H1640.44V323.8H1641.83V327.2H1643.23V334.9H1644.62V338.4H1646.02V332.6H1647.42V329.9H1648.81V330.4H1650.21V326.5H1651.61V330.0H1653.00V331.2H1654.40V331.7H1655.79V321.7H1657.19V319.1H1658.59V325.4H1659.98V329.8H1661.38V330.6H1662.78V334.1H1664.17V335.7H1665.57V329.5H1666.96V324.1H1668.36V318.7H1669.76V319.3H1671.15V323.2H1672.55V332.4H1673.95V337.2H1675.34V337.2H1676.74V335.3H1678.13V338.2H1679.53V339.5H1680.93V339.6H1682.32V341.1H1683.72V342.9H1685.12V339.7H1686.51V341.1H1687.91V339.1H1689.31V335.4H1690.70V334.8H1692.10V344.2H1693.49V345.5H1694.89V339.8H1696.29V334.8H1697.68V328.0H1699.08V317.0H1700.48V326.9H1701.87V335.3H1703.27V342.7H1704.66V342.4H1706.06V340.4H1707.46V342.9H1708.85V344.6H1710.25V346.0H1711.65V343.1H1713.04V340.7H1714.44V341.1H1715.83V340.5H1717.23V343.3H1718.63V347.9H1720.02V344.1H1721.42V345.4H1722.82V344.9H1724.21V347.6H1725.61V346.9H1727.00V345.0H1728.40V338.2H1729.80V342.8H1731.19V346.6H1732.59V348.4H1733.99V348.9H1735.38V350.2H1736.78V348.7H1738.18V343.8H1739.57V344.7H1740.97V346.6H1742.36V342.1H1743.76V340.4H1745.16V339.1H1746.55V337.4H1747.95V342.6H1749.35V341.8H1750.74V334.1H1752.14V330.7H1753.53V332.7H1754.93V340.6H1756.33V344.6H1757.72V341.3H1759.12V342.2H1760.52V342.6H1761.91V341.1H1763.31V338.7H1764.70V333.8H1766.10V333.5H1767.50V339.8H1768.89V340.9H1770.29V342.9H1771.69V348.0H1773.08V350.6H1774.48V344.5H1775.87V342.5H1777.27V344.1H1778.67V346.2H1780.06V345.3H1781.46V344.7H1782.86V343.5H1784.25V341.1H1785.65V341.1H1787.05V341.6H1788.44V340.4H1789.84V339.8H1791.23V342.0H1792.63V344.0H1794.03V344.2H1795.42V342.3H1796.82V342.3H1798.22V339.2H1799.61V344.2H1801.01V345.2H1802.40V346.5H1803.80V345.7H1805.20V343.8H1806.59V344.8H1807.99V343.8H1809.39V342.3H1810.78V343.3H1812.18V344.5H1813.57V344.4H1814.97V344.4H1816.37V344.8H1817.76V343.5H1819.16V343.1H1820.56V341.6H1821.95V343.6H1823.35V344.9H1824.74V349.0H1826.14V352.1H1827.54V350.5H1828.93V348.4H1830.33V350.7H1831.73V352.4H1833.12V346.0H1834.52V338.3H1835.92V339.7H1837.31V341.3H1838.71V339.0H1840.10V342.1H1841.50V342.8H1842.90V345.3H1844.29V347.0H1845.69V348.7H1847.09V347.5H1848.48V345.3H1849.88V352.7H1851.27V351.2H1852.67V345.4H1854.07V344.2H1855.46V345.8H1856.86V345.5H1858.26V347.3H1859.65V351.9H1860.35" stroke="#cc00cc" stroke-width="1.2"/>
</g>
<g fill="none">
<path d="M1371.65 105.50V380.80H1860.85" stroke="#000" stroke-width="1.3"/>
<path d="M1371.65 106.00h12.2M1371.65 144.42h5.8M1371.65 134.74h5.8M1371.65 127.87h5.8M1371.65 122.54h5.8M1371.65 118.19h5.8M1371.65 114.51h5.8M1371.65 111.33h5.8M1371.65 108.51h5.8M1371.65 160.96h12.2M1371.65 199.38h5.8M1371.65 189.70h5.8M1371.65 182.83h5.8M1371.65 177.50h5.8M1371.65 173.15h5.8M1371.65 169.47h5.8M1371.65 166.29h5.8M1371.65 163.47h5.8M1371.65 215.92h12.2M1371.65 254.34h5.8M1371.65 244.66h5.8M1371.65 237.79h5.8M1371.65 232.46h5.8M1371.65 228.11h5.8M1371.65 224.43h5.8M1371.65 221.25h5.8M1371.65 218.43h5.8M1371.65 270.88h12.2M1371.65 309.30h5.8M1371.65 299.62h5.8M1371.65 292.75h5.8M1371.65 287.42h5.8M1371.65 283.07h5.8M1371.65 279.39h5.8M1371.65 276.21h5.8M1371.65 273.39h5.8M1371.65 325.84h12.2M1371.65 364.26h5.8M1371.65 354.58h5.8M1371.65 347.71h5.8M1371.65 342.38h5.8M1371.65 338.03h5.8M1371.65 334.35h5.8M1371.65 331.17h5.8M1371.65 328.35h5.8M1371.65 380.80h12.2M1371.65 380.80v-6.4M1406.56 380.80v-6.4M1441.46 380.80v-12.2M1476.37 380.80v-6.4M1511.28 380.80v-6.4M1546.19 380.80v-6.4M1581.09 380.80v-12.2M1616.00 380.80v-6.4M1650.91 380.80v-6.4M1685.81 380.80v-6.4M1720.72 380.80v-12.2M1755.63 380.80v-6.4M1790.54 380.80v-6.4M1825.44 380.80v-6.4M1860.35 380.80v-12.2" stroke="#000" stroke-width="1"/>
<text x="1365.7" y="112.7" class="tk" text-anchor="end">10</text>
<text x="1365.7" y="167.7" class="tk" text-anchor="end">1</text>
<text x="1366.5" y="224.2" class="tk te" text-anchor="end">10<tspan class="ex" dy="-10.1">-1</tspan></text>
<text x="1366.5" y="279.2" class="tk te" text-anchor="end">10<tspan class="ex" dy="-10.1">-2</tspan></text>
<text x="1366.5" y="334.1" class="tk te" text-anchor="end">10<tspan class="ex" dy="-10.1">-3</tspan></text>
<text x="1366.5" y="389.1" class="tk te" text-anchor="end">10<tspan class="ex" dy="-10.1">-4</tspan></text>
<text x="1440.3" y="399.0" class="tk" text-anchor="middle">50</text>
<text x="1579.9" y="399.0" class="tk" text-anchor="middle">52</text>
<text x="1719.5" y="399.0" class="tk" text-anchor="middle">54</text>
<text x="1859.2" y="399.0" class="tk" text-anchor="middle">56</text>
<text x="1859.2" y="423.2" class="hz" text-anchor="end">Hz</text>
<text class="yt" text-anchor="end" transform="translate(1299.5 103.2) rotate(-90) scale(1 1.08)">nT/sqrt(Hz)</text>
</g>
<text class="ti" text-anchor="middle" transform="translate(1615.2 80.1) scale(1 1.085)">ENV_EXT_MAG_N__FFT</text>
<text x="1581.5" y="453.8" class="f1" text-anchor="middle">1454270763.0000 Feb 4 2026 20:05:45 UTC</text>
<text class="f2" text-anchor="middle" transform="translate(1581.2 480.6) scale(1 1.04)">1456690098.00 Mar 4 2026 20:08:00 UTC dt:50s nAv:97</text>
<g fill="none">
<path d="M95.60 625.83H584.30M95.60 694.55H584.30M95.60 763.27H584.30M165.41 557.10V832.00M305.04 557.10V832.00M444.67 557.10V832.00" stroke="#000" stroke-opacity="0.6" stroke-width="1.3" stroke-dasharray="1.3 2.45"/>
<path d="M95.60 557.10H584.30V832.00" stroke="#000" stroke-opacity="0.4" stroke-width="1"/>
<path d="M95.60 557.10H584.30V832.00" stroke="#000" stroke-opacity="0.7" stroke-width="1.1" stroke-dasharray="2.6 1.15"/>
</g>
<g fill="none" clip-path="url(#c3)">
<path d="M95.60 640.0H96.30V700.0H97.69V760.0H99.09V771.3H100.49V771.3H101.88V772.2H103.28V772.5H104.68V773.9H106.07V775.3H107.47V775.1H108.86V774.6H110.26V774.5H111.66V775.4H113.05V773.7H114.45V771.9H115.85V772.3H117.24V769.9H118.64V767.3H120.03V765.1H121.43V764.3H122.83V761.7H124.22V760.1H125.62V760.0H127.02V759.1H128.41V756.9H129.81V755.7H131.21V755.4H132.60V754.3H134.00V754.0H135.39V753.8H136.79V753.1H138.19V747.4H139.58V742.2H140.98V736.3H142.38V728.5H143.77V719.9H145.17V719.4H146.56V719.7H147.96V718.2H149.36V713.7H150.75V709.3H152.15V709.7H153.55V707.8H154.94V705.8H156.34V680.3H157.73V651.3H159.13V621.0H160.53V577.0H161.92V557.1H163.32V557.1H164.72V557.1H166.11V557.1H167.51V557.1H168.91V596.0H170.30V647.0H171.70V683.0H173.09V700.0H174.49V714.9H175.89V711.0H177.28V713.9H178.68V719.1H180.08V721.6H181.47V721.0H182.87V726.0H184.26V735.8H185.66V735.3H187.06V736.4H188.45V744.6H189.85V748.0H191.25V748.9H192.64V749.0H194.04V749.8H195.43V752.9H196.83V752.8H198.23V753.3H199.62V754.7H201.02V757.4H202.42V758.1H203.81V759.9H205.21V760.5H206.60V763.7H208.00V766.1H209.40V767.0H210.79V768.3H212.19V770.0H213.59V771.7H214.98V772.3H216.38V774.5H217.78V772.4H219.17V770.2H220.57V768.7H221.96V767.9H223.36V766.6H224.76V765.3H226.15V762.8H227.55V761.1H228.95V748.0H230.34V709.4H231.74V654.4H233.13V639.4H234.53V659.5H235.93V707.3H237.32V744.0H238.72V745.0H240.12V752.0H241.51V747.1H242.91V756.4H244.30V765.2H245.70V770.6H247.10V774.3H248.49V777.1H249.89V779.0H251.29V779.9H252.68V781.5H254.08V781.9H255.47V780.6H256.87V779.3H258.27V778.2H259.66V777.6H261.06V779.1H262.46V779.9H263.85V778.9H265.25V778.6H266.64V778.1H268.04V778.5H269.44V780.1H270.83V779.9H272.23V780.1H273.63V778.9H275.02V778.2H276.42V778.0H277.82V779.4H279.21V780.0H280.61V780.8H282.00V778.7H283.40V775.8H284.80V775.3H286.19V776.3H287.59V776.7H288.99V776.2H290.38V775.0H291.78V776.8H293.17V778.3H294.57V777.2H295.97V774.5H297.36V770.9H298.76V763.4H300.16V710.0H301.55V655.8H302.95V641.8H304.34V661.6H305.74V710.0H307.14V769.0H308.53V773.7H309.93V772.8H311.33V773.7H312.72V776.8H314.12V778.4H315.51V778.8H316.91V779.3H318.31V776.6H319.70V777.8H321.10V780.8H322.50V781.3H323.89V781.1H325.29V779.8H326.69V779.7H328.08V780.0H329.48V780.2H330.87V779.1H332.27V778.1H333.67V778.0H335.06V778.9H336.46V779.8H337.86V779.6H339.25V778.9H340.65V779.1H342.04V778.4H343.44V779.1H344.84V780.6H346.23V779.3H347.63V780.1H349.03V780.0H350.42V781.1H351.82V781.3H353.21V782.3H354.61V782.3H356.01V780.2H357.40V777.7H358.80V776.0H360.20V775.5H361.59V776.6H362.99V775.8H364.38V773.9H365.78V774.0H367.18V774.6H368.57V763.4H369.97V713.0H371.37V659.5H372.76V645.6H374.16V665.7H375.56V713.0H376.95V748.0H378.35V763.4H379.74V770.8H381.14V770.0H382.54V772.0H383.93V774.0H385.33V774.9H386.73V776.0H388.12V776.0H389.52V776.7H390.91V777.7H392.31V778.2H393.71V777.6H395.10V778.8H396.50V779.7H397.90V778.5H399.29V776.6H400.69V777.8H402.08V777.9H403.48V776.3H404.88V775.7H406.27V777.0H407.67V777.9H409.07V777.1H410.46V778.9H411.86V780.8H413.25V780.0H414.65V780.7H416.05V781.3H417.44V780.2H418.84V779.5H420.24V781.5H421.63V782.7H423.03V783.2H424.43V780.4H425.82V779.5H427.22V778.3H428.61V777.3H430.01V777.0H431.41V775.2H432.80V774.8H434.20V772.4H435.60V768.3H436.99V763.9H438.39V763.0H439.78V719.0H441.18V665.7H442.58V650.5H443.97V672.4H445.37V717.0H446.77V763.0H448.16V770.8H449.56V772.5H450.95V773.2H452.35V774.3H453.75V775.5H455.14V777.9H456.54V780.2H457.94V782.5H459.33V785.7H460.73V787.7H462.12V787.5H463.52V788.3H464.92V787.7H466.31V788.3H467.71V789.8H469.11V790.2H470.50V789.1H471.90V788.0H473.30V787.0H474.69V787.1H476.09V788.2H477.48V789.4H478.88V789.6H480.28V789.0H481.67V788.9H483.07V786.8H484.47V786.8H485.86V788.0H487.26V789.2H488.65V789.3H490.05V788.8H491.45V789.0H492.84V788.0H494.24V785.8H495.64V783.4H497.03V782.8H498.43V780.4H499.82V776.3H501.22V774.3H502.62V774.9H504.01V774.8H505.41V771.1H506.81V766.7H508.20V763.0H509.60V727.0H511.00V675.0H512.39V659.7H513.79V680.0H515.18V727.0H516.58V761.0H517.98V771.8H519.37V770.1H520.77V771.3H522.17V775.4H523.56V778.9H524.96V782.5H526.35V785.1H527.75V785.0H529.15V787.2H530.54V791.1H531.94V792.4H533.34V793.7H534.73V791.9H536.13V792.2H537.52V793.4H538.92V795.3H540.32V794.3H541.71V792.2H543.11V787.4H544.51V786.9H545.90V791.8H547.30V793.9H548.69V797.1H550.09V794.2H551.49V792.5H552.88V788.4H554.28V781.8H555.68V783.9H557.07V796.4H558.47V797.0H559.87V797.7H561.26V796.7H562.66V797.7H564.05V796.7H565.45V794.5H566.85V793.0H568.24V788.8H569.64V785.3H571.04V784.0H572.43V781.2H573.83V774.8H575.22V766.9H576.62V761.2H578.02V770.0H579.41V735.0H580.81V686.0H582.21V671.0H583.60V690.0H584.30" stroke="#6666ff" stroke-width="1.2"/>
<path d="M95.60 774.2H96.30V774.0H97.69V775.0H99.09V775.8H100.49V777.3H101.88V777.5H103.28V776.5H104.68V776.7H106.07V778.8H107.47V782.8H108.86V783.9H110.26V781.1H111.66V778.7H113.05V778.5H114.45V778.5H115.85V775.9H117.24V773.0H118.64V771.6H120.03V769.0H121.43V766.2H122.83V765.2H124.22V764.2H125.62V763.4H127.02V761.6H128.41V759.3H129.81V757.7H131.21V760.3H132.60V760.2H134.00V758.3H135.39V759.8H136.79V760.1H138.19V753.7H139.58V749.5H140.98V743.0H142.38V735.9H143.77V726.2H145.17V724.9H146.56V722.0H147.96V719.3H149.36V713.1H150.75V709.2H152.15V708.2H153.55V705.7H154.94V706.4H156.34V680.9H157.73V651.9H159.13V623.0H160.53V579.0H161.92V557.1H163.32V557.1H164.72V557.1H166.11V557.1H167.51V557.1H168.91V600.0H170.30V651.0H171.70V684.2H173.09V701.2H174.49V713.7H175.89V711.5H177.28V714.9H178.68V718.3H180.08V721.6H181.47V726.2H182.87V732.0H184.26V743.2H185.66V752.5H187.06V754.9H188.45V755.9H189.85V755.4H191.25V756.3H192.64V757.9H194.04V758.5H195.43V757.8H196.83V759.3H198.23V764.2H199.62V767.5H201.02V768.3H202.42V767.5H203.81V767.8H205.21V770.3H206.60V771.0H208.00V771.6H209.40V773.6H210.79V773.3H212.19V771.5H213.59V771.5H214.98V774.6H216.38V777.3H217.78V778.6H219.17V777.6H220.57V774.2H221.96V773.1H223.36V771.8H224.76V773.1H226.15V774.8H227.55V773.1H228.95V777.4H230.34V777.6H231.74V770.9H233.13V774.7H234.53V785.1H235.93V779.9H237.32V776.1H238.72V777.1H240.12V777.5H241.51V775.6H242.91V774.1H244.30V774.2H245.70V777.8H247.10V778.9H248.49V780.4H249.89V780.7H251.29V781.0H252.68V781.5H254.08V781.5H255.47V784.0H256.87V782.2H258.27V781.4H259.66V781.3H261.06V781.3H262.46V781.3H263.85V779.2H265.25V781.2H266.64V783.0H268.04V781.3H269.44V781.5H270.83V783.4H272.23V782.1H273.63V782.1H275.02V787.0H276.42V788.5H277.82V784.8H279.21V784.7H280.61V784.3H282.00V783.4H283.40V783.3H284.80V784.9H286.19V785.1H287.59V782.2H288.99V781.3H290.38V781.7H291.78V784.1H293.17V787.7H294.57V788.3H295.97V783.9H297.36V782.4H298.76V780.6H300.16V777.1H301.55V766.6H302.95V747.1H304.34V748.9H305.74V774.3H307.14V787.6H308.53V791.6H309.93V791.0H311.33V788.7H312.72V785.7H314.12V781.5H315.51V782.9H316.91V788.7H318.31V789.5H319.70V786.3H321.10V785.3H322.50V787.0H323.89V788.3H325.29V790.4H326.69V788.6H328.08V786.9H329.48V784.8H330.87V782.6H332.27V780.8H333.67V781.8H335.06V783.7H336.46V783.4H337.86V781.8H339.25V782.6H340.65V783.6H342.04V784.2H343.44V786.1H344.84V786.9H346.23V786.7H347.63V785.6H349.03V785.2H350.42V786.3H351.82V787.8H353.21V785.2H354.61V784.3H356.01V783.9H357.40V784.1H358.80V784.6H360.20V783.6H361.59V782.8H362.99V781.6H364.38V781.8H365.78V783.4H367.18V784.5H368.57V781.2H369.97V775.8H371.37V764.0H372.76V744.2H374.16V744.1H375.56V771.8H376.95V780.5H378.35V780.9H379.74V779.5H381.14V781.1H382.54V781.1H383.93V783.3H385.33V785.1H386.73V786.6H388.12V788.0H389.52V788.2H390.91V788.4H392.31V788.2H393.71V788.6H395.10V790.8H396.50V790.6H397.90V791.2H399.29V794.2H400.69V793.3H402.08V792.8H403.48V792.3H404.88V789.5H406.27V787.2H407.67V787.2H409.07V784.9H410.46V784.7H411.86V784.9H413.25V784.3H414.65V785.4H416.05V788.4H417.44V789.7H418.84V790.2H420.24V790.0H421.63V791.4H423.03V792.0H424.43V792.3H425.82V791.1H427.22V791.1H428.61V790.5H430.01V790.8H431.41V789.6H432.80V791.0H434.20V789.2H435.60V787.3H436.99V787.8H438.39V786.6H439.78V780.2H441.18V768.7H442.58V763.4H443.97V764.0H445.37V781.5H446.77V790.0H448.16V796.7H449.56V793.4H450.95V790.2H452.35V789.1H453.75V789.0H455.14V790.6H456.54V789.9H457.94V786.4H459.33V786.2H460.73V789.2H462.12V791.5H463.52V793.5H464.92V793.7H466.31V792.6H467.71V791.4H469.11V790.3H470.50V790.8H471.90V789.9H473.30V790.0H474.69V790.9H476.09V792.6H477.48V793.2H478.88V795.0H480.28V796.9H481.67V796.0H483.07V795.4H484.47V796.9H485.86V797.8H487.26V797.1H488.65V798.2H490.05V800.8H491.45V802.9H492.84V803.8H494.24V804.8H495.64V803.9H497.03V801.1H498.43V800.6H499.82V801.2H501.22V801.4H502.62V800.8H504.01V800.6H505.41V800.2H506.81V798.9H508.20V795.6H509.60V785.5H511.00V770.1H512.39V763.4H513.79V764.0H515.18V792.9H516.58V794.0H517.98V797.6H519.37V800.1H520.77V801.1H522.17V801.0H523.56V802.6H524.96V805.8H526.35V804.5H527.75V804.4H529.15V805.3H530.54V806.2H531.94V807.5H533.34V808.3H534.73V808.3H536.13V809.3H537.52V807.4H538.92V806.9H540.32V809.0H541.71V808.3H543.11V807.5H544.51V806.9H545.90V807.9H547.30V809.4H548.69V808.7H550.09V805.6H551.49V807.1H552.88V807.7H554.28V806.0H555.68V806.6H557.07V808.0H558.47V810.7H559.87V809.6H561.26V808.7H562.66V810.9H564.05V811.9H565.45V810.6H566.85V809.2H568.24V809.0H569.64V811.0H571.04V810.8H572.43V810.3H573.83V809.0H575.22V804.9H576.62V804.5H578.02V801.5H579.41V792.5H580.81V779.2H582.21V769.1H583.60V769.2H584.30" stroke="#ff6a0a" stroke-width="1.2"/>
<path d="M95.60 766.7H96.30V767.2H97.69V767.3H99.09V769.3H100.49V773.7H101.88V776.9H103.28V775.4H104.68V774.5H106.07V773.9H107.47V774.1H108.86V775.0H110.26V774.1H111.66V770.2H113.05V767.1H114.45V767.2H115.85V767.4H117.24V764.7H118.64V764.4H120.03V762.9H121.43V756.3H122.83V752.0H124.22V755.7H125.62V758.0H127.02V756.7H128.41V752.5H129.81V752.0H131.21V752.0H132.60V749.7H134.00V747.8H135.39V748.8H136.79V751.3H138.19V745.0H139.58V738.9H140.98V732.4H142.38V722.5H143.77V716.3H145.17V716.8H146.56V718.8H147.96V717.5H149.36V713.2H150.75V708.0H152.15V706.1H153.55V705.1H154.94V705.2H156.34V679.7H157.73V650.7H159.13V619.0H160.53V575.0H161.92V557.1H163.32V557.1H164.72V557.1H166.11V557.1H167.51V557.1H168.91V594.0H170.30V645.0H171.70V682.4H173.09V699.4H174.49V712.0H175.89V706.6H177.28V712.6H178.68V715.7H180.08V713.8H181.47V715.7H182.87V722.9H184.26V733.9H185.66V732.6H187.06V731.9H188.45V741.7H189.85V746.6H191.25V745.7H192.64V747.6H194.04V750.3H195.43V751.2H196.83V750.5H198.23V751.7H199.62V752.0H201.02V754.2H202.42V757.7H203.81V759.6H205.21V760.4H206.60V762.6H208.00V763.6H209.40V766.8H210.79V767.3H212.19V769.5H213.59V769.7H214.98V770.7H216.38V771.1H217.78V769.4H219.17V768.5H220.57V766.4H221.96V765.8H223.36V765.9H224.76V765.6H226.15V765.6H227.55V766.3H228.95V772.5H230.34V775.1H231.74V773.2H233.13V768.3H234.53V764.5H235.93V765.8H237.32V766.9H238.72V769.8H240.12V770.2H241.51V769.9H242.91V770.6H244.30V772.6H245.70V773.8H247.10V775.0H248.49V777.1H249.89V777.9H251.29V779.4H252.68V778.6H254.08V777.3H255.47V777.6H256.87V774.5H258.27V775.1H259.66V778.1H261.06V778.3H262.46V776.3H263.85V775.8H265.25V776.1H266.64V777.9H268.04V779.1H269.44V780.5H270.83V780.2H272.23V779.2H273.63V777.3H275.02V776.9H276.42V776.4H277.82V776.1H279.21V778.0H280.61V776.7H282.00V774.6H283.40V775.7H284.80V775.4H286.19V776.0H287.59V774.6H288.99V772.7H290.38V771.5H291.78V773.9H293.17V776.5H294.57V776.6H295.97V776.2H297.36V773.9H298.76V775.8H300.16V777.6H301.55V774.7H302.95V750.9H304.34V750.4H305.74V771.1H307.14V773.9H308.53V777.6H309.93V779.1H311.33V778.8H312.72V778.5H314.12V780.7H315.51V780.2H316.91V778.4H318.31V777.9H319.70V781.1H321.10V783.3H322.50V782.5H323.89V781.0H325.29V779.5H326.69V777.7H328.08V779.6H329.48V778.2H330.87V778.4H332.27V779.2H333.67V779.5H335.06V781.3H336.46V782.1H337.86V780.6H339.25V780.7H340.65V779.9H342.04V778.9H343.44V777.6H344.84V777.7H346.23V778.4H347.63V779.9H349.03V780.9H350.42V780.4H351.82V782.1H353.21V782.5H354.61V779.9H356.01V776.9H357.40V776.5H358.80V776.9H360.20V775.1H361.59V775.9H362.99V773.8H364.38V773.0H365.78V774.1H367.18V773.9H368.57V772.7H369.97V770.5H371.37V764.2H372.76V750.0H374.16V750.0H375.56V767.5H376.95V771.6H378.35V773.2H379.74V773.7H381.14V774.2H382.54V775.2H383.93V775.7H385.33V776.0H386.73V777.0H388.12V777.7H389.52V777.8H390.91V777.7H392.31V778.0H393.71V779.2H395.10V779.5H396.50V779.4H397.90V778.9H399.29V778.5H400.69V776.3H402.08V775.0H403.48V775.2H404.88V774.8H406.27V774.0H407.67V773.8H409.07V773.9H410.46V773.6H411.86V772.8H413.25V774.9H414.65V778.4H416.05V778.6H417.44V778.7H418.84V779.1H420.24V779.5H421.63V780.6H423.03V781.9H424.43V780.6H425.82V779.5H427.22V780.1H428.61V780.3H430.01V779.8H431.41V781.4H432.80V780.0H434.20V781.1H435.60V782.7H436.99V782.7H438.39V778.8H439.78V768.4H441.18V753.7H442.58V744.2H443.97V750.4H445.37V765.9H446.77V785.4H448.16V787.7H449.56V789.5H450.95V791.1H452.35V790.8H453.75V789.4H455.14V789.4H456.54V786.7H457.94V784.7H459.33V786.8H460.73V788.7H462.12V789.8H463.52V791.1H464.92V791.7H466.31V790.2H467.71V788.9H469.11V787.2H470.50V786.3H471.90V785.0H473.30V785.6H474.69V788.2H476.09V787.0H477.48V788.6H478.88V790.6H480.28V792.0H481.67V793.9H483.07V794.2H484.47V794.6H485.86V796.5H487.26V799.3H488.65V801.0H490.05V801.4H491.45V803.1H492.84V803.7H494.24V801.3H495.64V799.9H497.03V800.5H498.43V799.7H499.82V798.7H501.22V799.7H502.62V799.6H504.01V797.3H505.41V793.9H506.81V792.0H508.20V785.5H509.60V774.7H511.00V758.0H512.39V747.1H513.79V747.9H515.18V795.2H516.58V796.5H517.98V797.5H519.37V799.4H520.77V801.7H522.17V801.5H523.56V801.9H524.96V802.1H526.35V804.0H527.75V803.8H529.15V803.0H530.54V804.8H531.94V803.8H533.34V804.1H534.73V806.4H536.13V807.4H537.52V807.1H538.92V807.0H540.32V807.2H541.71V807.6H543.11V806.0H544.51V805.1H545.90V805.5H547.30V804.1H548.69V804.2H550.09V805.6H551.49V805.5H552.88V805.0H554.28V804.0H555.68V804.4H557.07V805.3H558.47V806.7H559.87V808.2H561.26V808.1H562.66V810.4H564.05V811.4H565.45V811.1H566.85V810.0H568.24V807.3H569.64V809.0H571.04V808.4H572.43V805.9H573.83V804.1H575.22V803.3H576.62V802.7H578.02V797.5H579.41V781.7H580.81V761.0H582.21V752.9H583.60V754.9H584.30" stroke="#0a9a0a" stroke-width="1.2"/>
<path d="M95.60 756.1H96.30V760.0H97.69V752.7H99.09V759.0H100.49V770.2H101.88V766.8H103.28V763.5H104.68V761.5H106.07V756.1H107.47V755.1H108.86V755.8H110.26V754.5H111.66V747.2H113.05V748.9H114.45V751.2H115.85V755.6H117.24V753.8H118.64V751.6H120.03V757.7H121.43V759.6H122.83V761.5H124.22V762.3H125.62V754.4H127.02V745.1H128.41V748.3H129.81V747.4H131.21V744.8H132.60V754.1H134.00V750.4H135.39V744.9H136.79V740.6H138.19V736.2H139.58V730.0H140.98V729.3H142.38V721.4H143.77V720.1H145.17V722.1H146.56V721.2H147.96V723.8H149.36V719.2H150.75V710.1H152.15V707.8H153.55V709.0H154.94V708.9H156.34V683.2H157.73V654.6H159.13V633.7H160.53V589.9H161.92V557.1H163.32V557.1H164.72V557.1H166.11V557.1H167.51V557.1H168.91V602.7H170.30V656.5H171.70V686.0H173.09V703.7H174.49V705.4H175.89V710.6H177.28V715.9H178.68V724.6H180.08V724.3H181.47V729.8H182.87V726.4H184.26V734.9H185.66V737.8H187.06V735.8H188.45V739.0H189.85V736.9H191.25V745.7H192.64V749.8H194.04V741.6H195.43V737.3H196.83V743.0H198.23V744.0H199.62V749.8H201.02V754.6H202.42V754.6H203.81V756.8H205.21V759.8H206.60V756.4H208.00V759.7H209.40V759.2H210.79V757.2H212.19V754.1H213.59V754.7H214.98V748.7H216.38V753.9H217.78V755.9H219.17V747.9H220.57V751.2H221.96V748.7H223.36V745.0H224.76V753.9H226.15V751.9H227.55V756.7H228.95V761.5H230.34V761.6H231.74V754.5H233.13V752.7H234.53V756.6H235.93V750.0H237.32V753.6H238.72V752.6H240.12V750.6H241.51V751.4H242.91V754.5H244.30V756.5H245.70V759.3H247.10V763.9H248.49V756.4H249.89V760.8H251.29V766.9H252.68V764.6H254.08V762.0H255.47V757.4H256.87V759.2H258.27V762.2H259.66V763.5H261.06V763.2H262.46V761.1H263.85V764.0H265.25V765.5H266.64V763.9H268.04V764.8H269.44V760.7H270.83V761.9H272.23V768.5H273.63V780.5H275.02V770.4H276.42V765.4H277.82V765.3H279.21V763.4H280.61V764.6H282.00V770.9H283.40V767.2H284.80V765.1H286.19V764.8H287.59V765.1H288.99V762.9H290.38V762.7H291.78V770.7H293.17V773.8H294.57V774.0H295.97V773.0H297.36V769.2H298.76V761.4H300.16V764.7H301.55V767.9H302.95V770.5H304.34V770.4H305.74V776.0H307.14V768.3H308.53V772.1H309.93V769.0H311.33V767.6H312.72V768.8H314.12V770.8H315.51V771.5H316.91V774.9H318.31V773.0H319.70V772.0H321.10V773.8H322.50V770.9H323.89V778.5H325.29V778.0H326.69V768.2H328.08V764.7H329.48V773.5H330.87V776.3H332.27V768.7H333.67V763.7H335.06V767.9H336.46V768.5H337.86V771.2H339.25V771.3H340.65V765.1H342.04V766.9H343.44V764.3H344.84V770.4H346.23V776.1H347.63V775.5H349.03V772.0H350.42V776.8H351.82V774.0H353.21V770.3H354.61V763.3H356.01V760.5H357.40V771.0H358.80V770.5H360.20V764.0H361.59V774.0H362.99V767.3H364.38V769.8H365.78V772.8H367.18V768.4H368.57V768.4H369.97V766.4H371.37V774.1H372.76V772.4H374.16V775.4H375.56V778.9H376.95V777.3H378.35V778.4H379.74V780.8H381.14V781.2H382.54V773.8H383.93V770.5H385.33V775.8H386.73V772.2H388.12V776.6H389.52V780.2H390.91V783.7H392.31V781.0H393.71V775.8H395.10V780.9H396.50V768.0H397.90V769.4H399.29V765.2H400.69V764.5H402.08V769.8H403.48V775.5H404.88V783.0H406.27V778.1H407.67V773.3H409.07V777.0H410.46V775.5H411.86V776.6H413.25V776.9H414.65V777.0H416.05V774.9H417.44V778.2H418.84V772.2H420.24V781.4H421.63V786.2H423.03V777.3H424.43V774.7H425.82V788.6H427.22V794.1H428.61V791.5H430.01V786.8H431.41V787.1H432.80V787.2H434.20V781.7H435.60V783.9H436.99V782.8H438.39V774.8H439.78V782.5H441.18V786.8H442.58V784.7H443.97V784.5H445.37V781.5H446.77V778.3H448.16V781.5H449.56V787.6H450.95V790.9H452.35V790.5H453.75V791.0H455.14V786.6H456.54V785.1H457.94V791.0H459.33V798.0H460.73V791.4H462.12V791.4H463.52V785.0H464.92V785.3H466.31V793.6H467.71V791.6H469.11V793.5H470.50V789.1H471.90V790.8H473.30V790.5H474.69V793.5H476.09V785.3H477.48V783.6H478.88V788.1H480.28V787.8H481.67V796.0H483.07V794.7H484.47V792.2H485.86V797.6H487.26V797.6H488.65V802.7H490.05V799.5H491.45V799.5H492.84V804.6H494.24V800.6H495.64V795.5H497.03V796.3H498.43V793.4H499.82V805.2H501.22V810.5H502.62V803.3H504.01V802.0H505.41V803.0H506.81V799.5H508.20V801.1H509.60V798.6H511.00V796.0H512.39V792.8H513.79V797.5H515.18V802.7H516.58V799.3H517.98V800.2H519.37V804.5H520.77V797.8H522.17V797.7H523.56V795.0H524.96V795.9H526.35V798.3H527.75V800.2H529.15V800.1H530.54V802.2H531.94V799.1H533.34V794.2H534.73V798.2H536.13V796.4H537.52V790.2H538.92V788.8H540.32V790.0H541.71V795.2H543.11V793.5H544.51V795.8H545.90V802.5H547.30V805.3H548.69V811.1H550.09V803.0H551.49V804.1H552.88V808.2H554.28V804.4H555.68V798.5H557.07V802.4H558.47V804.0H559.87V802.0H561.26V803.3H562.66V802.9H564.05V800.7H565.45V797.0H566.85V801.8H568.24V803.3H569.64V803.9H571.04V807.0H572.43V809.8H573.83V810.9H575.22V807.4H576.62V804.2H578.02V806.3H579.41V804.6H580.81V804.1H582.21V800.2H583.60V796.1H584.30" stroke="#cc00cc" stroke-width="1.2"/>
<path d="M95.60 759.7H96.30V757.5H97.69V761.4H99.09V758.1H100.49V761.8H101.88V765.2H103.28V755.7H104.68V752.5H106.07V752.0H107.47V749.8H108.86V749.8H110.26V751.0H111.66V749.0H113.05V755.3H114.45V754.2H115.85V762.4H117.24V764.9H118.64V760.5H120.03V751.2H121.43V752.7H122.83V757.3H124.22V752.5H125.62V751.4H127.02V736.6H128.41V742.4H129.81V749.6H131.21V753.4H132.60V748.2H134.00V753.6H135.39V749.7H136.79V744.5H138.19V744.8H139.58V741.9H140.98V729.9H142.38V723.7H143.77V715.4H145.17V718.0H146.56V719.1H147.96V720.3H149.36V715.8H150.75V708.4H152.15V708.0H153.55V710.7H154.94V710.7H156.34V686.3H157.73V656.5H159.13V634.0H160.53V589.9H161.92V557.1H163.32V557.1H164.72V557.1H166.11V557.1H167.51V557.1H168.91V606.3H170.30V656.0H171.70V683.9H173.09V700.6H174.49V706.4H175.89V715.5H177.28V711.3H178.68V722.9H180.08V716.3H181.47V718.6H182.87V727.9H184.26V739.2H185.66V738.9H187.06V745.6H188.45V750.0H189.85V751.2H191.25V749.5H192.64V752.7H194.04V752.3H195.43V751.1H196.83V745.7H198.23V738.3H199.62V737.3H201.02V745.5H202.42V756.0H203.81V765.4H205.21V769.8H206.60V760.9H208.00V754.7H209.40V752.0H210.79V758.6H212.19V751.5H213.59V751.4H214.98V751.3H216.38V750.4H217.78V759.6H219.17V758.8H220.57V757.1H221.96V761.4H223.36V758.4H224.76V764.5H226.15V763.6H227.55V756.4H228.95V753.9H230.34V752.3H231.74V749.0H233.13V757.6H234.53V757.1H235.93V754.2H237.32V751.6H238.72V752.2H240.12V751.8H241.51V758.9H242.91V761.9H244.30V764.3H245.70V761.7H247.10V759.4H248.49V762.8H249.89V761.7H251.29V766.8H252.68V768.1H254.08V768.8H255.47V769.3H256.87V764.2H258.27V760.5H259.66V766.6H261.06V771.4H262.46V761.0H263.85V763.0H265.25V765.7H266.64V765.4H268.04V765.4H269.44V768.3H270.83V777.6H272.23V774.6H273.63V774.3H275.02V770.7H276.42V763.0H277.82V767.1H279.21V771.5H280.61V768.2H282.00V764.8H283.40V763.4H284.80V766.9H286.19V767.6H287.59V770.0H288.99V762.0H290.38V766.2H291.78V767.5H293.17V773.0H294.57V774.4H295.97V776.0H297.36V776.0H298.76V770.8H300.16V766.8H301.55V771.8H302.95V772.6H304.34V774.6H305.74V772.0H307.14V775.2H308.53V773.5H309.93V776.6H311.33V775.1H312.72V774.3H314.12V773.2H315.51V769.4H316.91V770.3H318.31V774.8H319.70V774.2H321.10V771.2H322.50V770.3H323.89V770.6H325.29V764.3H326.69V766.3H328.08V776.5H329.48V782.2H330.87V776.3H332.27V772.6H333.67V774.8H335.06V769.2H336.46V772.5H337.86V776.6H339.25V772.7H340.65V774.0H342.04V773.2H343.44V770.0H344.84V778.2H346.23V775.5H347.63V775.5H349.03V774.5H350.42V768.4H351.82V771.2H353.21V768.3H354.61V764.1H356.01V764.6H357.40V760.1H358.80V762.2H360.20V767.0H361.59V766.1H362.99V781.8H364.38V778.6H365.78V775.1H367.18V769.4H368.57V772.8H369.97V773.6H371.37V768.8H372.76V775.0H374.16V774.5H375.56V774.1H376.95V773.5H378.35V776.2H379.74V780.4H381.14V780.3H382.54V778.9H383.93V774.6H385.33V775.7H386.73V775.1H388.12V778.9H389.52V776.9H390.91V774.9H392.31V769.4H393.71V765.7H395.10V774.1H396.50V771.8H397.90V770.8H399.29V770.2H400.69V768.3H402.08V778.0H403.48V779.7H404.88V773.9H406.27V778.6H407.67V778.2H409.07V788.0H410.46V783.7H411.86V778.2H413.25V772.2H414.65V774.3H416.05V784.4H417.44V782.9H418.84V783.8H420.24V789.6H421.63V793.0H423.03V791.5H424.43V787.7H425.82V789.8H427.22V790.7H428.61V789.4H430.01V785.8H431.41V791.6H432.80V789.1H434.20V790.9H435.60V793.6H436.99V790.1H438.39V782.3H439.78V787.8H441.18V784.9H442.58V790.7H443.97V788.4H445.37V793.2H446.77V784.6H448.16V786.3H449.56V785.2H450.95V778.0H452.35V781.8H453.75V786.5H455.14V788.5H456.54V792.9H457.94V798.3H459.33V796.8H460.73V795.7H462.12V789.4H463.52V790.8H464.92V788.3H466.31V787.3H467.71V790.1H469.11V790.6H470.50V791.9H471.90V788.7H473.30V788.1H474.69V786.5H476.09V790.8H477.48V788.9H478.88V796.4H480.28V796.3H481.67V794.3H483.07V792.4H484.47V795.8H485.86V798.6H487.26V791.1H488.65V794.9H490.05V796.0H491.45V805.1H492.84V797.7H494.24V795.9H495.64V798.4H497.03V798.9H498.43V791.9H499.82V796.9H501.22V796.5H502.62V799.7H504.01V806.6H505.41V803.1H506.81V799.5H508.20V799.8H509.60V799.6H511.00V795.3H512.39V801.5H513.79V802.4H515.18V798.4H516.58V799.1H517.98V796.9H519.37V801.8H520.77V799.3H522.17V804.2H523.56V801.6H524.96V806.7H526.35V804.6H527.75V802.5H529.15V800.5H530.54V796.5H531.94V798.0H533.34V802.8H534.73V799.6H536.13V792.6H537.52V797.4H538.92V794.4H540.32V796.6H541.71V801.9H543.11V796.4H544.51V801.1H545.90V805.5H547.30V803.0H548.69V805.8H550.09V800.2H551.49V801.7H552.88V801.3H554.28V800.7H555.68V796.0H557.07V794.3H558.47V798.5H559.87V798.3H561.26V802.4H562.66V807.3H564.05V807.4H565.45V804.1H566.85V806.4H568.24V811.4H569.64V817.0H571.04V810.4H572.43V801.8H573.83V800.7H575.22V815.6H576.62V818.9H578.02V810.6H579.41V809.6H580.81V811.1H582.21V808.0H583.60V810.6H584.30" stroke="#cc00cc" stroke-width="1.2"/>
<path d="M95.60 765.0H96.30V768.3H97.69V762.9H99.09V763.8H100.49V770.9H101.88V769.0H103.28V761.6H104.68V760.8H106.07V755.9H107.47V754.4H108.86V753.9H110.26V745.4H111.66V744.2H113.05V748.9H114.45V751.3H115.85V756.6H117.24V753.7H118.64V754.5H120.03V764.9H121.43V762.4H122.83V761.6H124.22V753.0H125.62V748.0H127.02V742.6H128.41V741.0H129.81V751.2H131.21V750.0H132.60V750.7H134.00V751.4H135.39V756.7H136.79V748.4H138.19V739.7H139.58V739.5H140.98V730.4H142.38V728.1H143.77V717.7H145.17V718.8H146.56V725.3H147.96V725.5H149.36V718.5H150.75V711.7H152.15V709.1H153.55V709.8H154.94V710.3H156.34V685.6H157.73V658.0H159.13V636.7H160.53V590.9H161.92V557.1H163.32V557.1H164.72V557.1H166.11V557.1H167.51V557.1H168.91V608.5H170.30V657.8H171.70V687.1H173.09V705.0H174.49V709.1H175.89V710.9H177.28V715.1H178.68V717.0H180.08V720.0H181.47V730.7H182.87V737.3H184.26V738.6H185.66V746.2H187.06V745.2H188.45V743.1H189.85V749.2H191.25V755.6H192.64V754.4H194.04V753.5H195.43V740.4H196.83V747.1H198.23V744.7H199.62V750.5H201.02V752.6H202.42V749.6H203.81V757.0H205.21V763.0H206.60V766.8H208.00V758.1H209.40V753.8H210.79V755.7H212.19V761.8H213.59V760.8H214.98V755.6H216.38V756.2H217.78V756.4H219.17V760.1H220.57V757.0H221.96V757.5H223.36V757.4H224.76V755.6H226.15V762.2H227.55V764.3H228.95V760.0H230.34V754.5H231.74V750.2H233.13V755.4H234.53V758.5H235.93V755.9H237.32V757.0H238.72V758.6H240.12V759.5H241.51V760.0H242.91V759.9H244.30V758.4H245.70V754.1H247.10V761.4H248.49V767.5H249.89V776.8H251.29V771.5H252.68V772.0H254.08V770.8H255.47V769.0H256.87V775.9H258.27V775.9H259.66V772.8H261.06V766.9H262.46V770.1H263.85V761.7H265.25V766.8H266.64V772.4H268.04V764.1H269.44V765.6H270.83V768.8H272.23V766.8H273.63V763.3H275.02V766.0H276.42V763.1H277.82V766.9H279.21V765.6H280.61V771.9H282.00V765.7H283.40V766.5H284.80V769.1H286.19V763.2H287.59V768.2H288.99V771.8H290.38V763.8H291.78V769.6H293.17V773.8H294.57V774.7H295.97V767.1H297.36V766.6H298.76V773.6H300.16V774.5H301.55V774.6H302.95V774.6H304.34V772.3H305.74V775.4H307.14V775.9H308.53V774.9H309.93V783.1H311.33V778.9H312.72V772.4H314.12V776.1H315.51V772.8H316.91V778.1H318.31V779.0H319.70V772.9H321.10V777.1H322.50V776.7H323.89V778.5H325.29V780.6H326.69V772.7H328.08V768.4H329.48V767.5H330.87V768.4H332.27V771.8H333.67V773.9H335.06V774.4H336.46V775.5H337.86V774.1H339.25V777.1H340.65V775.6H342.04V784.6H343.44V778.8H344.84V771.6H346.23V771.8H347.63V775.7H349.03V774.0H350.42V775.4H351.82V773.5H353.21V769.0H354.61V763.2H356.01V759.3H357.40V764.8H358.80V773.0H360.20V773.0H361.59V768.0H362.99V772.4H364.38V773.4H365.78V769.6H367.18V772.3H368.57V772.6H369.97V770.0H371.37V775.7H372.76V779.3H374.16V782.3H375.56V780.3H376.95V771.0H378.35V771.8H379.74V778.0H381.14V779.4H382.54V783.5H383.93V794.2H385.33V785.9H386.73V785.4H388.12V785.8H389.52V782.7H390.91V778.8H392.31V779.8H393.71V774.6H395.10V774.2H396.50V772.8H397.90V775.4H399.29V780.7H400.69V770.4H402.08V775.6H403.48V771.0H404.88V775.5H406.27V782.6H407.67V779.7H409.07V775.3H410.46V777.7H411.86V783.0H413.25V780.5H414.65V783.4H416.05V783.8H417.44V785.2H418.84V795.6H420.24V790.9H421.63V781.8H423.03V787.9H424.43V788.6H425.82V792.5H427.22V788.5H428.61V790.6H430.01V794.4H431.41V793.5H432.80V785.6H434.20V785.8H435.60V785.0H436.99V785.6H438.39V794.2H439.78V790.2H441.18V784.9H442.58V793.7H443.97V800.1H445.37V794.3H446.77V783.9H448.16V787.0H449.56V792.8H450.95V787.7H452.35V791.6H453.75V793.3H455.14V788.7H456.54V788.3H457.94V779.7H459.33V786.5H460.73V791.1H462.12V791.2H463.52V799.0H464.92V791.0H466.31V792.1H467.71V796.3H469.11V798.8H470.50V790.9H471.90V796.8H473.30V794.2H474.69V791.0H476.09V795.8H477.48V795.8H478.88V793.4H480.28V795.6H481.67V795.7H483.07V798.5H484.47V802.9H485.86V805.1H487.26V798.5H488.65V805.4H490.05V794.7H491.45V798.9H492.84V803.7H494.24V802.3H495.64V798.9H497.03V799.3H498.43V798.5H499.82V799.3H501.22V806.3H502.62V806.7H504.01V803.4H505.41V805.8H506.81V803.2H508.20V804.3H509.60V802.4H511.00V796.5H512.39V797.2H513.79V802.4H515.18V802.7H516.58V800.4H517.98V801.6H519.37V804.7H520.77V799.8H522.17V802.3H523.56V801.0H524.96V802.1H526.35V807.6H527.75V808.3H529.15V807.9H530.54V808.0H531.94V803.5H533.34V803.3H534.73V800.1H536.13V799.2H537.52V796.4H538.92V797.1H540.32V799.5H541.71V798.8H543.11V807.6H544.51V799.7H545.90V799.9H547.30V810.4H548.69V812.9H550.09V810.7H551.49V808.8H552.88V803.4H554.28V797.6H555.68V797.1H557.07V798.1H558.47V804.1H559.87V802.0H561.26V800.0H562.66V803.4H564.05V806.6H565.45V804.0H566.85V803.8H568.24V808.6H569.64V809.6H571.04V806.9H572.43V807.2H573.83V808.5H575.22V802.8H576.62V802.2H578.02V803.7H579.41V805.2H580.81V807.2H582.21V810.0H583.60V806.0H584.30" stroke="#cc00cc" stroke-width="1.2"/>
</g>
<g fill="none">
<path d="M95.60 556.60V832.00H584.80" stroke="#000" stroke-width="1.3"/>
<path d="M95.60 557.10h12.2M95.60 605.14h5.8M95.60 593.03h5.8M95.60 584.45h5.8M95.60 577.79h5.8M95.60 572.35h5.8M95.60 567.75h5.8M95.60 563.76h5.8M95.60 560.24h5.8M95.60 625.83h12.2M95.60 673.86h5.8M95.60 661.76h5.8M95.60 653.17h5.8M95.60 646.51h5.8M95.60 641.07h5.8M95.60 636.47h5.8M95.60 632.49h5.8M95.60 628.97h5.8M95.60 694.55h12.2M95.60 742.59h5.8M95.60 730.48h5.8M95.60 721.90h5.8M95.60 715.24h5.8M95.60 709.80h5.8M95.60 705.20h5.8M95.60 701.21h5.8M95.60 697.69h5.8M95.60 763.27h12.2M95.60 811.31h5.8M95.60 799.21h5.8M95.60 790.62h5.8M95.60 783.96h5.8M95.60 778.52h5.8M95.60 773.92h5.8M95.60 769.94h5.8M95.60 766.42h5.8M95.60 832.00h12.2M95.60 832.00v-6.4M130.51 832.00v-6.4M165.41 832.00v-12.2M200.32 832.00v-6.4M235.23 832.00v-6.4M270.14 832.00v-6.4M305.04 832.00v-12.2M339.95 832.00v-6.4M374.86 832.00v-6.4M409.76 832.00v-6.4M444.67 832.00v-12.2M479.58 832.00v-6.4M514.49 832.00v-6.4M549.39 832.00v-6.4M584.30 832.00v-12.2" stroke="#000" stroke-width="1"/>
<text x="90.4" y="566.4" class="tk te" text-anchor="end">10<tspan class="ex" dy="-10.0">2</tspan></text>
<text x="89.6" y="632.5" class="tk" text-anchor="end">10</text>
<text x="89.6" y="701.2" class="tk" text-anchor="end">1</text>
<text x="90.4" y="772.6" class="tk te" text-anchor="end">10<tspan class="ex" dy="-10.0">-1</tspan></text>
<text x="90.4" y="841.3" class="tk te" text-anchor="end">10<tspan class="ex" dy="-10.0">-2</tspan></text>
<text x="163.0" y="850.2" class="tk" text-anchor="middle">50</text>
<text x="302.6" y="850.2" class="tk" text-anchor="middle">52</text>
<text x="442.3" y="850.2" class="tk" text-anchor="middle">54</text>
<text x="581.9" y="850.2" class="tk" text-anchor="middle">56</text>
<text x="583.1" y="875.6" class="hz" text-anchor="end">Hz</text>
<text class="yt" text-anchor="end" transform="translate(23.4 556.5) rotate(-90) scale(1 1.08)">A/sqrt(Hz)</text>
</g>
<rect x="190.5" y="508.5" width="412.2" height="86" fill="#fff" stroke="#000" stroke-width="1.2"/>
<path d="M205.0 523.4H279.0" stroke="#6666ff" stroke-width="1.25"/>
<text x="293.0" y="527.7" class="lg">ENV_CEB_UPS_CURR_R_2000Hz</text>
<path d="M205.0 552.1H279.0" stroke="#ff6a0a" stroke-width="1.25"/>
<text x="293.0" y="556.4" class="lg">ENV_CEB_UPS_CURR_S_2000Hz</text>
<path d="M205.0 581.0H279.0" stroke="#0a9a0a" stroke-width="1.25"/>
<text x="293.0" y="585.3" class="lg">ENV_CEB_UPS_CURR_T_2000Hz</text>
<text x="305.4" y="905.2" class="f1" text-anchor="middle">1454270763.0000 Feb 4 2026 20:05:45 UTC</text>
<text class="f2" text-anchor="middle" transform="translate(305.2 933.3) scale(1 1.04)">1456690098.00 Mar 4 2026 20:08:00 UTC dt:50s nAv:97</text>
<g fill="none">
<path d="M734.15 625.83H1222.85M734.15 694.55H1222.85M734.15 763.27H1222.85M803.96 557.10V832.00M943.59 557.10V832.00M1083.22 557.10V832.00" stroke="#000" stroke-opacity="0.6" stroke-width="1.3" stroke-dasharray="1.3 2.45"/>
<path d="M734.15 557.10H1222.85V832.00" stroke="#000" stroke-opacity="0.4" stroke-width="1"/>
<path d="M734.15 557.10H1222.85V832.00" stroke="#000" stroke-opacity="0.7" stroke-width="1.1" stroke-dasharray="2.6 1.15"/>
</g>
<g fill="none" clip-path="url(#c4)">
<path d="M734.15 682.9H734.85V728.8H736.24V727.1H737.64V725.8H739.04V724.5H740.43V723.5H741.83V724.6H743.23V725.9H744.62V723.5H746.02V720.6H747.41V719.5H748.81V719.7H750.21V719.1H751.60V719.0H753.00V718.7H754.40V718.2H755.79V717.0H757.19V716.0H758.59V714.9H759.98V713.3H761.38V711.6H762.77V710.4H764.17V710.0H765.57V709.0H766.96V707.7H768.36V706.1H769.76V703.1H771.15V700.8H772.55V699.5H773.94V699.6H775.34V698.8H776.74V697.9H778.13V696.6H779.53V693.1H780.93V688.8H782.32V684.7H783.72V682.3H785.11V679.8H786.51V675.9H787.91V669.4H789.30V664.5H790.70V664.1H792.10V663.3H793.49V658.3H794.89V647.9H796.28V630.5H797.68V613.6H799.08V569.1H800.47V557.1H801.87V557.1H803.27V557.1H804.66V557.1H806.06V569.5H807.45V635.8H808.85V650.3H810.25V658.8H811.64V664.3H813.04V668.1H814.44V671.8H815.83V675.7H817.23V679.2H818.63V678.5H820.02V681.9H821.42V687.8H822.81V690.5H824.21V692.1H825.61V692.8H827.00V695.2H828.40V697.2H829.80V697.9H831.19V698.6H832.59V702.0H833.98V705.1H835.38V707.8H836.78V708.8H838.17V709.9H839.57V709.6H840.97V710.4H842.36V712.2H843.76V713.7H845.15V714.0H846.55V714.7H847.95V717.3H849.34V719.1H850.74V718.5H852.14V719.7H853.53V720.8H854.93V720.9H856.33V721.3H857.72V722.1H859.12V722.8H860.51V724.0H861.91V724.7H863.31V725.7H864.70V726.6H866.10V726.7H867.50V728.5H868.89V721.3H870.29V673.8H871.68V659.6H873.08V678.9H874.48V721.3H875.87V728.3H877.27V730.3H878.67V730.9H880.06V732.6H881.46V734.3H882.85V734.6H884.25V734.6H885.65V733.0H887.04V732.7H888.44V734.7H889.84V736.7H891.23V738.2H892.63V738.2H894.02V738.8H895.42V739.9H896.82V739.2H898.21V740.1H899.61V742.7H901.01V744.6H902.40V742.7H903.80V740.0H905.19V738.6H906.59V740.7H907.99V742.4H909.38V742.7H910.78V742.7H912.18V743.7H913.57V744.9H914.97V745.3H916.37V744.3H917.76V743.9H919.16V744.4H920.55V745.2H921.95V745.8H923.35V745.4H924.74V746.0H926.14V746.7H927.54V747.6H928.93V748.5H930.33V746.6H931.72V745.3H933.12V746.0H934.52V747.1H935.91V746.9H937.31V745.9H938.71V717.3H940.10V665.7H941.50V652.6H942.89V670.8H944.29V717.3H945.69V745.2H947.08V747.3H948.48V748.1H949.88V749.3H951.27V747.9H952.67V746.2H954.07V746.4H955.46V746.5H956.86V747.3H958.25V746.8H959.65V746.2H961.05V746.3H962.44V747.3H963.84V748.3H965.24V750.2H966.63V751.1H968.03V750.6H969.42V748.4H970.82V748.1H972.22V747.7H973.61V746.8H975.01V745.9H976.41V746.5H977.80V747.6H979.20V748.2H980.59V749.1H981.99V748.8H983.39V746.0H984.78V742.7H986.18V744.3H987.58V745.7H988.97V745.4H990.37V745.8H991.76V747.4H993.16V746.3H994.56V745.6H995.95V745.1H997.35V746.5H998.75V748.1H1000.14V747.9H1001.54V747.3H1002.93V746.8H1004.33V745.3H1005.73V742.9H1007.12V741.2H1008.52V717.3H1009.92V666.7H1011.31V653.0H1012.71V672.8H1014.11V717.3H1015.50V739.4H1016.90V742.9H1018.29V738.1H1019.69V741.0H1021.09V744.0H1022.48V745.7H1023.88V744.5H1025.28V741.8H1026.67V739.8H1028.07V741.6H1029.46V742.9H1030.86V743.6H1032.26V741.6H1033.65V741.1H1035.05V742.8H1036.45V744.5H1037.84V744.8H1039.24V744.3H1040.63V744.0H1042.03V744.1H1043.43V743.6H1044.82V743.5H1046.22V742.5H1047.62V742.5H1049.01V743.1H1050.41V744.1H1051.81V745.6H1053.20V747.2H1054.60V749.2H1055.99V748.4H1057.39V746.9H1058.79V747.6H1060.18V748.8H1061.58V749.0H1062.98V747.3H1064.37V745.2H1065.77V744.6H1067.16V744.6H1068.56V743.7H1069.96V744.9H1071.35V746.3H1072.75V745.3H1074.15V744.1H1075.54V742.7H1076.94V740.6H1078.33V721.3H1079.73V672.8H1081.13V658.2H1082.52V679.9H1083.92V721.3H1085.32V740.1H1086.71V746.5H1088.11V751.9H1089.50V741.2H1090.90V722.7H1092.30V730.4H1093.69V742.1H1095.09V743.8H1096.49V744.8H1097.88V747.0H1099.28V749.5H1100.67V749.7H1102.07V746.7H1103.47V744.6H1104.86V745.9H1106.26V746.6H1107.66V746.8H1109.05V744.8H1110.45V743.2H1111.85V742.7H1113.24V736.7H1114.64V730.3H1116.03V741.0H1117.43V747.4H1118.83V749.1H1120.22V750.7H1121.62V750.1H1123.02V747.9H1124.41V746.0H1125.81V744.5H1127.20V742.9H1128.60V744.2H1130.00V747.7H1131.39V751.2H1132.79V753.7H1134.19V754.7H1135.58V754.4H1136.98V751.2H1138.37V748.3H1139.77V752.1H1141.17V755.1H1142.56V755.4H1143.96V753.3H1145.36V751.4H1146.75V749.7H1148.15V731.4H1149.55V681.9H1150.94V666.7H1152.34V687.9H1153.73V731.4H1155.13V751.4H1156.53V755.6H1157.92V755.6H1159.32V755.3H1160.72V756.5H1162.11V758.3H1163.51V758.1H1164.90V757.0H1166.30V756.3H1167.70V755.9H1169.09V755.9H1170.49V756.9H1171.89V759.6H1173.28V762.1H1174.68V761.7H1176.07V760.2H1177.47V759.9H1178.87V761.6H1180.26V761.1H1181.66V760.2H1183.06V759.1H1184.45V758.0H1185.85V757.0H1187.24V755.6H1188.64V756.5H1190.04V758.0H1191.43V760.1H1192.83V761.7H1194.23V764.0H1195.62V760.2H1197.02V756.3H1198.41V755.2H1199.81V756.6H1201.21V757.7H1202.60V760.2H1204.00V762.0H1205.40V761.1H1206.79V759.8H1208.19V759.3H1209.59V759.7H1210.98V759.2H1212.38V754.3H1213.77V738.6H1215.17V737.4H1216.57V753.9H1217.96V739.5H1219.36V694.0H1220.76V680.9H1222.15V701.1H1222.85" stroke="#6666ff" stroke-width="1.2"/>
<path d="M734.15 692.0H734.85V727.6H736.24V726.1H737.64V725.5H739.04V725.2H740.43V724.0H741.83V723.5H743.23V724.3H744.62V722.7H746.02V721.4H747.41V719.9H748.81V719.3H750.21V719.0H751.60V718.0H753.00V717.6H754.40V717.4H755.79V715.1H757.19V713.3H758.59V713.6H759.98V712.6H761.38V709.7H762.77V707.6H764.17V707.1H765.57V708.1H766.96V707.7H768.36V706.0H769.76V704.3H771.15V701.1H772.55V698.8H773.94V696.6H775.34V695.1H776.74V694.9H778.13V693.9H779.53V691.9H780.93V688.8H782.32V684.3H783.72V681.6H785.11V678.8H786.51V675.5H787.91V669.8H789.30V664.7H790.70V664.7H792.10V663.3H793.49V657.8H794.89V647.0H796.28V627.0H797.68V612.2H799.08V570.2H800.47V557.1H801.87V557.1H803.27V557.1H804.66V557.1H806.06V568.6H807.45V635.2H808.85V649.3H810.25V657.8H811.64V662.8H813.04V667.8H814.44V671.9H815.83V674.8H817.23V678.0H818.63V678.3H820.02V679.5H821.42V685.1H822.81V689.2H824.21V690.8H825.61V691.5H827.00V692.8H828.40V696.3H829.80V698.1H831.19V700.0H832.59V702.3H833.98V704.6H835.38V705.5H836.78V706.8H838.17V709.6H839.57V710.1H840.97V708.5H842.36V708.9H843.76V710.4H845.15V713.2H846.55V715.5H847.95V715.3H849.34V716.4H850.74V717.9H852.14V719.0H853.53V720.1H854.93V719.5H856.33V719.4H857.72V719.9H859.12V721.0H860.51V722.0H861.91V723.0H863.31V724.5H864.70V727.3H866.10V727.0H867.50V727.6H868.89V729.3H870.29V689.0H871.68V678.9H873.08V691.0H874.48V727.4H875.87V727.9H877.27V728.7H878.67V729.8H880.06V731.6H881.46V734.1H882.85V733.8H884.25V731.0H885.65V729.9H887.04V730.5H888.44V733.1H889.84V735.1H891.23V736.1H892.63V737.2H894.02V739.0H895.42V738.8H896.82V739.2H898.21V740.9H899.61V741.3H901.01V742.0H902.40V741.9H903.80V740.2H905.19V739.2H906.59V739.4H907.99V740.2H909.38V741.2H910.78V742.3H912.18V742.4H913.57V742.9H914.97V743.3H916.37V743.9H917.76V743.4H919.16V743.7H920.55V743.6H921.95V743.2H923.35V743.2H924.74V744.8H926.14V745.5H927.54V746.1H928.93V747.4H930.33V745.3H931.72V744.0H933.12V743.9H934.52V745.0H935.91V745.5H937.31V742.3H938.71V739.9H940.10V697.0H941.50V684.9H942.89V705.1H944.29V739.6H945.69V742.5H947.08V745.6H948.48V746.8H949.88V749.0H951.27V748.0H952.67V743.7H954.07V742.7H955.46V743.5H956.86V744.7H958.25V745.0H959.65V744.9H961.05V745.0H962.44V746.4H963.84V746.4H965.24V746.9H966.63V750.7H968.03V751.6H969.42V749.9H970.82V748.6H972.22V745.8H973.61V743.9H975.01V744.4H976.41V745.9H977.80V746.5H979.20V747.3H980.59V748.2H981.99V747.7H983.39V746.0H984.78V743.0H986.18V744.6H987.58V745.9H988.97V746.8H990.37V746.6H991.76V745.7H993.16V742.5H994.56V741.5H995.95V743.3H997.35V745.8H998.75V746.8H1000.14V745.0H1001.54V744.7H1002.93V745.7H1004.33V743.4H1005.73V740.8H1007.12V737.9H1008.52V737.6H1009.92V705.1H1011.31V691.0H1012.71V709.2H1014.11V734.4H1015.50V740.4H1016.90V744.1H1018.29V738.4H1019.69V741.1H1021.09V742.7H1022.48V744.4H1023.88V743.2H1025.28V741.3H1026.67V740.4H1028.07V740.5H1029.46V741.8H1030.86V742.6H1032.26V740.9H1033.65V738.7H1035.05V740.8H1036.45V742.9H1037.84V742.9H1039.24V742.1H1040.63V741.7H1042.03V741.5H1043.43V742.4H1044.82V742.0H1046.22V742.0H1047.62V740.4H1049.01V741.2H1050.41V742.7H1051.81V746.7H1053.20V749.3H1054.60V751.3H1055.99V749.6H1057.39V746.7H1058.79V746.1H1060.18V747.2H1061.58V746.8H1062.98V746.2H1064.37V745.5H1065.77V743.6H1067.16V741.9H1068.56V741.5H1069.96V743.3H1071.35V743.6H1072.75V742.6H1074.15V742.9H1075.54V742.1H1076.94V739.9H1078.33V736.1H1079.73V709.2H1081.13V697.0H1082.52V713.2H1083.92V737.7H1085.32V739.8H1086.71V745.2H1088.11V750.3H1089.50V741.1H1090.90V722.3H1092.30V731.4H1093.69V742.1H1095.09V742.6H1096.49V743.1H1097.88V746.3H1099.28V749.3H1100.67V750.0H1102.07V746.7H1103.47V744.6H1104.86V746.0H1106.26V747.5H1107.66V747.1H1109.05V744.3H1110.45V740.9H1111.85V740.6H1113.24V734.9H1114.64V729.1H1116.03V741.2H1117.43V746.4H1118.83V747.4H1120.22V750.1H1121.62V749.2H1123.02V746.1H1124.41V743.9H1125.81V743.4H1127.20V742.8H1128.60V743.2H1130.00V746.9H1131.39V751.3H1132.79V752.4H1134.19V753.2H1135.58V754.4H1136.98V752.3H1138.37V749.8H1139.77V751.0H1141.17V753.2H1142.56V753.4H1143.96V751.8H1145.36V749.7H1146.75V748.3H1148.15V747.8H1149.55V717.3H1150.94V705.1H1152.34V721.3H1153.73V745.5H1155.13V749.6H1156.53V754.2H1157.92V754.3H1159.32V753.7H1160.72V756.1H1162.11V756.8H1163.51V757.3H1164.90V755.6H1166.30V754.3H1167.70V754.0H1169.09V753.3H1170.49V754.4H1171.89V757.9H1173.28V760.2H1174.68V760.6H1176.07V758.4H1177.47V757.8H1178.87V760.1H1180.26V760.1H1181.66V757.6H1183.06V757.3H1184.45V757.8H1185.85V755.1H1187.24V753.8H1188.64V756.1H1190.04V759.1H1191.43V760.9H1192.83V761.2H1194.23V761.7H1195.62V758.4H1197.02V754.9H1198.41V753.7H1199.81V757.1H1201.21V759.2H1202.60V760.4H1204.00V760.9H1205.40V760.3H1206.79V758.9H1208.19V757.4H1209.59V758.5H1210.98V760.6H1212.38V755.3H1213.77V738.3H1215.17V736.2H1216.57V751.4H1217.96V740.2H1219.36V733.4H1220.76V721.3H1222.15V737.5H1222.85" stroke="#ff6a0a" stroke-width="1.2"/>
<path d="M734.15 705.1H734.85V728.9H736.24V728.1H737.64V727.0H739.04V725.2H740.43V724.3H741.83V723.6H743.23V723.9H744.62V723.0H746.02V721.0H747.41V720.1H748.81V719.5H750.21V719.3H751.60V718.9H753.00V720.0H754.40V719.4H755.79V718.6H757.19V717.5H758.59V715.7H759.98V712.8H761.38V710.1H762.77V709.3H764.17V708.9H765.57V707.9H766.96V707.1H768.36V705.9H769.76V702.9H771.15V700.8H772.55V700.2H773.94V699.2H775.34V698.4H776.74V697.5H778.13V695.5H779.53V692.8H780.93V689.1H782.32V684.7H783.72V682.3H785.11V679.7H786.51V675.3H787.91V669.3H789.30V664.5H790.70V663.5H792.10V662.8H793.49V659.2H794.89V649.0H796.28V630.3H797.68V614.4H799.08V570.1H800.47V557.1H801.87V557.1H803.27V557.1H804.66V557.1H806.06V569.5H807.45V636.4H808.85V650.4H810.25V658.7H811.64V664.8H813.04V669.5H814.44V673.4H815.83V677.3H817.23V680.4H818.63V680.2H820.02V682.2H821.42V687.2H822.81V690.3H824.21V692.5H825.61V693.9H827.00V695.5H828.40V697.8H829.80V699.4H831.19V701.2H832.59V702.4H833.98V704.4H835.38V706.5H836.78V708.1H838.17V709.6H839.57V710.4H840.97V710.9H842.36V711.2H843.76V712.1H845.15V714.0H846.55V715.1H847.95V716.7H849.34V718.2H850.74V718.8H852.14V719.1H853.53V719.8H854.93V721.3H856.33V721.7H857.72V721.4H859.12V722.1H860.51V722.6H861.91V723.6H863.31V725.8H864.70V726.8H866.10V727.2H867.50V727.4H868.89V727.7H870.29V680.9H871.68V664.3H873.08V680.9H874.48V728.3H875.87V729.0H877.27V731.2H878.67V732.9H880.06V734.1H881.46V733.6H882.85V733.8H884.25V734.1H885.65V733.4H887.04V732.4H888.44V734.8H889.84V737.3H891.23V737.8H892.63V738.8H894.02V739.8H895.42V740.8H896.82V742.1H898.21V743.0H899.61V743.8H901.01V744.7H902.40V742.1H903.80V739.9H905.19V739.4H906.59V740.7H907.99V742.8H909.38V742.1H910.78V742.7H912.18V743.5H913.57V744.6H914.97V744.9H916.37V744.5H917.76V743.5H919.16V743.2H920.55V744.6H921.95V744.9H923.35V745.0H924.74V746.4H926.14V747.7H927.54V748.0H928.93V748.4H930.33V746.8H931.72V745.3H933.12V744.5H934.52V745.5H935.91V746.1H937.31V744.8H938.71V743.2H940.10V686.9H941.50V671.8H942.89V693.0H944.29V743.0H945.69V744.4H947.08V746.8H948.48V748.7H949.88V749.5H951.27V747.5H952.67V746.7H954.07V746.1H955.46V745.9H956.86V746.4H958.25V746.3H959.65V745.9H961.05V746.3H962.44V747.6H963.84V749.1H965.24V750.0H966.63V750.3H968.03V750.7H969.42V749.6H970.82V749.9H972.22V747.9H973.61V746.4H975.01V746.6H976.41V748.3H977.80V749.1H979.20V749.1H980.59V749.5H981.99V748.6H983.39V746.2H984.78V743.9H986.18V744.5H987.58V744.6H988.97V745.2H990.37V746.6H991.76V747.4H993.16V746.3H994.56V745.2H995.95V745.3H997.35V745.7H998.75V746.7H1000.14V746.6H1001.54V746.6H1002.93V745.8H1004.33V745.0H1005.73V743.6H1007.12V739.8H1008.52V737.1H1009.92V695.0H1011.31V674.4H1012.71V701.1H1014.11V736.4H1015.50V741.0H1016.90V743.9H1018.29V739.0H1019.69V742.2H1021.09V743.3H1022.48V745.5H1023.88V746.0H1025.28V744.0H1026.67V741.8H1028.07V742.0H1029.46V743.5H1030.86V743.5H1032.26V742.1H1033.65V741.4H1035.05V743.0H1036.45V744.3H1037.84V744.7H1039.24V744.8H1040.63V744.8H1042.03V744.5H1043.43V744.5H1044.82V743.6H1046.22V742.8H1047.62V742.1H1049.01V743.1H1050.41V744.0H1051.81V746.0H1053.20V748.0H1054.60V750.1H1055.99V748.4H1057.39V747.5H1058.79V748.0H1060.18V748.9H1061.58V749.6H1062.98V746.8H1064.37V744.4H1065.77V743.7H1067.16V743.9H1068.56V743.9H1069.96V745.1H1071.35V746.2H1072.75V745.8H1074.15V744.1H1075.54V743.1H1076.94V740.6H1078.33V738.7H1079.73V695.0H1081.13V679.9H1082.52V697.0H1083.92V737.6H1085.32V740.2H1086.71V746.2H1088.11V751.5H1089.50V740.4H1090.90V722.2H1092.30V730.5H1093.69V742.1H1095.09V743.9H1096.49V745.4H1097.88V747.6H1099.28V750.3H1100.67V750.5H1102.07V747.4H1103.47V745.6H1104.86V746.0H1106.26V746.3H1107.66V745.8H1109.05V744.6H1110.45V743.6H1111.85V742.4H1113.24V734.8H1114.64V728.8H1116.03V741.5H1117.43V747.7H1118.83V748.9H1120.22V750.8H1121.62V751.0H1123.02V748.2H1124.41V746.1H1125.81V745.6H1127.20V744.7H1128.60V745.6H1130.00V749.3H1131.39V753.0H1132.79V753.6H1134.19V754.6H1135.58V754.7H1136.98V752.0H1138.37V749.2H1139.77V751.9H1141.17V754.4H1142.56V755.0H1143.96V753.9H1145.36V752.5H1146.75V751.2H1148.15V749.4H1149.55V701.1H1150.94V685.9H1152.34V705.1H1153.73V745.8H1155.13V750.2H1156.53V755.0H1157.92V754.0H1159.32V753.3H1160.72V756.2H1162.11V758.8H1163.51V759.3H1164.90V757.7H1166.30V756.7H1167.70V756.8H1169.09V755.9H1170.49V756.6H1171.89V758.4H1173.28V761.1H1174.68V761.6H1176.07V760.3H1177.47V759.6H1178.87V760.1H1180.26V760.8H1181.66V760.0H1183.06V759.4H1184.45V757.6H1185.85V756.2H1187.24V755.0H1188.64V756.8H1190.04V758.5H1191.43V760.0H1192.83V762.6H1194.23V764.3H1195.62V761.0H1197.02V757.5H1198.41V755.9H1199.81V758.3H1201.21V760.4H1202.60V760.4H1204.00V761.4H1205.40V760.4H1206.79V759.2H1208.19V757.8H1209.59V758.4H1210.98V759.1H1212.38V754.4H1213.77V739.4H1215.17V739.0H1216.57V754.1H1217.96V741.6H1219.36V713.2H1220.76V698.1H1222.15V721.3H1222.85" stroke="#0a9a0a" stroke-width="1.2"/>
<path d="M734.15 744.6H734.85V745.1H736.24V742.1H737.64V740.4H739.04V734.9H740.43V733.1H741.83V737.3H743.23V737.4H744.62V740.7H746.02V743.8H747.41V743.1H748.81V740.4H750.21V739.6H751.60V739.0H753.00V731.4H754.40V733.4H755.79V740.7H757.19V740.2H758.59V738.2H759.98V735.6H761.38V738.2H762.77V731.8H764.17V721.7H765.57V712.1H766.96V707.9H768.36V717.2H769.76V719.8H771.15V722.9H772.55V734.6H773.94V731.7H775.34V738.3H776.74V739.3H778.13V730.8H779.53V722.4H780.93V719.0H782.32V718.2H783.72V708.9H785.11V702.4H786.51V705.3H787.91V694.4H789.30V682.4H790.70V681.4H792.10V680.4H793.49V683.4H794.89V668.9H796.28V648.3H797.68V623.2H799.08V575.2H800.47V557.1H801.87V557.1H803.27V557.1H804.66V557.1H806.06V569.7H807.45V639.4H808.85V662.0H810.25V681.9H811.64V684.6H813.04V682.2H814.44V673.2H815.83V689.5H817.23V701.6H818.63V707.8H820.02V713.6H821.42V719.3H822.81V722.1H824.21V734.0H825.61V730.3H827.00V731.5H828.40V728.6H829.80V728.4H831.19V729.2H832.59V726.2H833.98V722.2H835.38V723.7H836.78V723.6H838.17V733.1H839.57V732.5H840.97V737.1H842.36V739.3H843.76V743.2H845.15V737.2H846.55V730.3H847.95V735.1H849.34V744.7H850.74V746.2H852.14V744.6H853.53V738.7H854.93V738.4H856.33V746.9H857.72V750.3H859.12V750.6H860.51V736.5H861.91V736.4H863.31V737.2H864.70V746.2H866.10V748.0H867.50V748.5H868.89V748.9H870.29V746.2H871.68V747.4H873.08V738.6H874.48V733.3H875.87V739.3H877.27V746.3H878.67V747.0H880.06V747.7H881.46V748.3H882.85V748.1H884.25V746.1H885.65V745.1H887.04V741.4H888.44V744.5H889.84V743.8H891.23V744.9H892.63V748.3H894.02V744.0H895.42V746.4H896.82V750.3H898.21V745.8H899.61V744.5H901.01V746.2H902.40V747.0H903.80V743.8H905.19V744.0H906.59V743.6H907.99V745.9H909.38V746.3H910.78V743.5H912.18V742.8H913.57V742.3H914.97V743.4H916.37V746.0H917.76V746.8H919.16V752.4H920.55V753.7H921.95V756.9H923.35V756.8H924.74V750.9H926.14V754.8H927.54V753.6H928.93V749.6H930.33V752.2H931.72V757.4H933.12V757.5H934.52V757.2H935.91V753.3H937.31V756.0H938.71V761.2H940.10V753.9H941.50V751.4H942.89V751.0H944.29V748.4H945.69V743.1H947.08V747.3H948.48V750.5H949.88V752.2H951.27V748.9H952.67V748.6H954.07V745.3H955.46V727.5H956.86V703.7H958.25V705.8H959.65V723.8H961.05V740.0H962.44V746.1H963.84V748.2H965.24V753.6H966.63V749.4H968.03V750.1H969.42V751.2H970.82V749.0H972.22V750.0H973.61V749.5H975.01V748.1H976.41V748.7H977.80V745.6H979.20V745.9H980.59V749.0H981.99V750.6H983.39V752.3H984.78V747.0H986.18V744.6H987.58V747.8H988.97V749.7H990.37V750.6H991.76V752.8H993.16V754.7H994.56V750.8H995.95V747.1H997.35V750.8H998.75V752.2H1000.14V753.6H1001.54V759.5H1002.93V758.3H1004.33V752.0H1005.73V748.8H1007.12V750.1H1008.52V750.2H1009.92V749.7H1011.31V754.0H1012.71V752.7H1014.11V754.2H1015.50V751.4H1016.90V750.4H1018.29V749.1H1019.69V751.1H1021.09V755.1H1022.48V755.3H1023.88V758.7H1025.28V761.8H1026.67V752.5H1028.07V757.0H1029.46V759.1H1030.86V753.1H1032.26V754.8H1033.65V754.8H1035.05V757.4H1036.45V761.2H1037.84V758.5H1039.24V755.3H1040.63V754.9H1042.03V755.4H1043.43V760.0H1044.82V763.4H1046.22V760.6H1047.62V761.4H1049.01V754.0H1050.41V753.8H1051.81V754.0H1053.20V756.4H1054.60V757.6H1055.99V757.9H1057.39V755.0H1058.79V759.7H1060.18V761.3H1061.58V763.4H1062.98V759.4H1064.37V762.4H1065.77V764.1H1067.16V761.7H1068.56V760.4H1069.96V762.0H1071.35V763.2H1072.75V766.5H1074.15V765.9H1075.54V761.6H1076.94V759.0H1078.33V763.2H1079.73V767.6H1081.13V765.5H1082.52V760.1H1083.92V753.2H1085.32V758.4H1086.71V766.3H1088.11V761.1H1089.50V762.8H1090.90V758.7H1092.30V756.0H1093.69V759.5H1095.09V765.1H1096.49V764.8H1097.88V764.6H1099.28V763.2H1100.67V765.2H1102.07V766.2H1103.47V765.4H1104.86V759.9H1106.26V755.3H1107.66V760.1H1109.05V760.1H1110.45V757.3H1111.85V746.2H1113.24V741.5H1114.64V730.2H1116.03V739.6H1117.43V759.9H1118.83V754.6H1120.22V758.4H1121.62V762.8H1123.02V754.8H1124.41V748.3H1125.81V750.2H1127.20V752.1H1128.60V755.6H1130.00V757.5H1131.39V755.6H1132.79V756.7H1134.19V763.1H1135.58V766.2H1136.98V760.7H1138.37V765.2H1139.77V767.5H1141.17V761.7H1142.56V765.8H1143.96V772.2H1145.36V771.6H1146.75V768.1H1148.15V772.9H1149.55V775.7H1150.94V773.1H1152.34V772.2H1153.73V771.1H1155.13V769.3H1156.53V766.0H1157.92V772.4H1159.32V775.1H1160.72V767.8H1162.11V767.6H1163.51V769.8H1164.90V772.6H1166.30V772.7H1167.70V774.8H1169.09V773.1H1170.49V771.1H1171.89V775.5H1173.28V774.5H1174.68V773.6H1176.07V765.8H1177.47V770.5H1178.87V771.3H1180.26V775.1H1181.66V776.5H1183.06V770.7H1184.45V768.0H1185.85V767.9H1187.24V773.6H1188.64V778.0H1190.04V776.4H1191.43V769.3H1192.83V772.7H1194.23V775.5H1195.62V776.7H1197.02V771.4H1198.41V770.0H1199.81V775.2H1201.21V775.5H1202.60V774.0H1204.00V770.1H1205.40V773.4H1206.79V776.0H1208.19V774.8H1209.59V768.2H1210.98V769.9H1212.38V773.4H1213.77V771.7H1215.17V771.7H1216.57V769.3H1217.96V759.8H1219.36V763.3H1220.76V774.0H1222.15V775.6H1222.85" stroke="#cc00cc" stroke-width="1.2"/>
<path d="M734.15 761.3H734.85V760.5H736.24V752.4H737.64V753.7H739.04V748.7H740.43V750.7H741.83V752.7H743.23V759.3H744.62V757.9H746.02V758.2H747.41V758.1H748.81V756.8H750.21V754.6H751.60V748.7H753.00V745.8H754.40V746.9H755.79V748.8H757.19V747.1H758.59V744.4H759.98V744.3H761.38V741.6H762.77V741.1H764.17V728.0H765.57V718.7H766.96V709.9H768.36V713.6H769.76V718.6H771.15V732.8H772.55V741.4H773.94V740.8H775.34V745.8H776.74V740.4H778.13V730.1H779.53V725.5H780.93V723.4H782.32V717.0H783.72V711.9H785.11V711.1H786.51V710.4H787.91V694.2H789.30V686.6H790.70V683.2H792.10V685.5H793.49V690.8H794.89V672.7H796.28V652.0H797.68V620.3H799.08V563.9H800.47V557.1H801.87V557.1H803.27V557.1H804.66V557.1H806.06V565.5H807.45V638.4H808.85V669.6H810.25V683.8H811.64V685.1H813.04V684.8H814.44V685.5H815.83V699.0H817.23V708.2H818.63V710.6H820.02V712.4H821.42V722.4H822.81V731.1H824.21V735.1H825.61V738.7H827.00V743.3H828.40V739.9H829.80V734.9H831.19V738.4H832.59V739.1H833.98V734.7H835.38V731.4H836.78V735.1H838.17V740.3H839.57V747.6H840.97V743.5H842.36V745.5H843.76V746.8H845.15V749.6H846.55V744.9H847.95V746.2H849.34V749.3H850.74V755.8H852.14V750.8H853.53V748.5H854.93V752.2H856.33V755.2H857.72V765.5H859.12V761.8H860.51V754.2H861.91V755.8H863.31V758.3H864.70V761.3H866.10V757.6H867.50V750.8H868.89V750.3H870.29V752.0H871.68V751.3H873.08V754.8H874.48V753.0H875.87V749.5H877.27V752.8H878.67V752.3H880.06V757.9H881.46V758.7H882.85V751.8H884.25V746.4H885.65V748.6H887.04V749.9H888.44V756.4H889.84V763.0H891.23V764.3H892.63V764.6H894.02V759.0H895.42V767.1H896.82V765.5H898.21V763.4H899.61V758.1H901.01V757.9H902.40V751.4H903.80V750.7H905.19V751.6H906.59V753.8H907.99V757.2H909.38V759.4H910.78V770.1H912.18V772.1H913.57V764.4H914.97V764.3H916.37V766.7H917.76V762.0H919.16V758.6H920.55V754.6H921.95V751.0H923.35V755.5H924.74V761.0H926.14V761.7H927.54V763.3H928.93V765.6H930.33V761.1H931.72V760.5H933.12V758.8H934.52V766.1H935.91V763.6H937.31V764.8H938.71V766.6H940.10V772.5H941.50V769.0H942.89V767.3H944.29V760.8H945.69V763.9H947.08V762.1H948.48V757.8H949.88V761.8H951.27V769.9H952.67V762.4H954.07V758.1H955.46V740.0H956.86V709.3H958.25V718.4H959.65V739.8H961.05V742.9H962.44V750.2H963.84V756.3H965.24V753.9H966.63V753.4H968.03V759.2H969.42V758.6H970.82V760.5H972.22V763.4H973.61V764.2H975.01V761.6H976.41V765.4H977.80V763.8H979.20V757.1H980.59V762.7H981.99V766.3H983.39V770.8H984.78V763.6H986.18V762.2H987.58V766.7H988.97V763.6H990.37V757.5H991.76V761.8H993.16V767.7H994.56V763.8H995.95V760.6H997.35V759.7H998.75V760.3H1000.14V764.1H1001.54V763.7H1002.93V761.8H1004.33V764.4H1005.73V766.3H1007.12V762.9H1008.52V757.1H1009.92V758.0H1011.31V763.5H1012.71V765.4H1014.11V768.4H1015.50V761.4H1016.90V761.1H1018.29V765.4H1019.69V761.5H1021.09V760.1H1022.48V764.8H1023.88V765.1H1025.28V761.9H1026.67V757.9H1028.07V760.3H1029.46V765.9H1030.86V761.2H1032.26V759.9H1033.65V759.9H1035.05V762.9H1036.45V766.7H1037.84V764.6H1039.24V768.1H1040.63V766.7H1042.03V761.4H1043.43V760.2H1044.82V759.5H1046.22V765.0H1047.62V767.6H1049.01V765.2H1050.41V760.6H1051.81V760.8H1053.20V761.2H1054.60V761.7H1055.99V760.6H1057.39V765.0H1058.79V764.2H1060.18V766.2H1061.58V764.4H1062.98V762.2H1064.37V767.2H1065.77V765.9H1067.16V762.2H1068.56V766.1H1069.96V765.1H1071.35V764.8H1072.75V763.9H1074.15V767.0H1075.54V763.3H1076.94V767.5H1078.33V767.8H1079.73V773.0H1081.13V773.2H1082.52V767.4H1083.92V762.3H1085.32V767.4H1086.71V762.3H1088.11V760.3H1089.50V763.6H1090.90V766.0H1092.30V764.1H1093.69V767.8H1095.09V771.3H1096.49V770.3H1097.88V768.6H1099.28V767.5H1100.67V768.3H1102.07V769.3H1103.47V765.8H1104.86V766.1H1106.26V767.6H1107.66V765.6H1109.05V756.1H1110.45V756.3H1111.85V751.4H1113.24V749.7H1114.64V733.0H1116.03V734.5H1117.43V765.0H1118.83V767.2H1120.22V766.2H1121.62V760.3H1123.02V759.2H1124.41V755.8H1125.81V754.7H1127.20V754.9H1128.60V755.6H1130.00V761.4H1131.39V760.8H1132.79V763.1H1134.19V765.1H1135.58V765.1H1136.98V767.5H1138.37V769.9H1139.77V769.4H1141.17V769.4H1142.56V768.0H1143.96V774.0H1145.36V774.6H1146.75V775.8H1148.15V773.0H1149.55V769.8H1150.94V771.2H1152.34V771.9H1153.73V770.1H1155.13V770.2H1156.53V774.4H1157.92V779.2H1159.32V782.2H1160.72V783.8H1162.11V782.5H1163.51V778.5H1164.90V778.3H1166.30V779.8H1167.70V781.2H1169.09V776.8H1170.49V781.6H1171.89V779.2H1173.28V775.3H1174.68V774.5H1176.07V775.2H1177.47V780.4H1178.87V786.8H1180.26V786.6H1181.66V774.8H1183.06V768.0H1184.45V772.7H1185.85V774.7H1187.24V778.6H1188.64V780.1H1190.04V775.3H1191.43V776.4H1192.83V774.0H1194.23V774.5H1195.62V779.7H1197.02V786.1H1198.41V786.6H1199.81V782.0H1201.21V782.7H1202.60V785.1H1204.00V783.6H1205.40V778.0H1206.79V777.4H1208.19V778.7H1209.59V777.6H1210.98V776.2H1212.38V778.4H1213.77V775.9H1215.17V774.7H1216.57V772.7H1217.96V769.6H1219.36V774.2H1220.76V781.2H1222.15V785.5H1222.85" stroke="#cc00cc" stroke-width="1.2"/>
<path d="M734.15 753.1H734.85V748.3H736.24V746.4H737.64V742.8H739.04V744.1H740.43V738.7H741.83V740.6H743.23V747.4H744.62V747.8H746.02V746.5H747.41V750.9H748.81V751.9H750.21V749.0H751.60V749.9H753.00V745.5H754.40V743.2H755.79V744.5H757.19V746.8H758.59V746.3H759.98V745.3H761.38V745.0H762.77V736.6H764.17V729.2H765.57V717.8H766.96V710.9H768.36V718.4H769.76V722.9H771.15V724.6H772.55V734.7H773.94V733.5H775.34V737.6H776.74V734.6H778.13V731.1H779.53V732.3H780.93V727.5H782.32V713.0H783.72V706.1H785.11V704.0H786.51V709.7H787.91V696.0H789.30V690.4H790.70V685.9H792.10V687.7H793.49V691.8H794.89V673.6H796.28V645.9H797.68V624.2H799.08V572.0H800.47V557.1H801.87V557.1H803.27V557.1H804.66V557.1H806.06V575.4H807.45V647.3H808.85V667.4H810.25V680.2H811.64V679.4H813.04V681.0H814.44V682.4H815.83V697.5H817.23V707.3H818.63V705.4H820.02V710.5H821.42V722.6H822.81V734.6H824.21V733.7H825.61V732.1H827.00V732.7H828.40V727.1H829.80V732.8H831.19V735.6H832.59V725.5H833.98V726.4H835.38V725.3H836.78V726.9H838.17V731.6H839.57V732.6H840.97V738.8H842.36V745.6H843.76V741.6H845.15V742.0H846.55V746.7H847.95V744.7H849.34V744.9H850.74V748.9H852.14V755.1H853.53V745.5H854.93V744.1H856.33V752.1H857.72V756.3H859.12V760.1H860.51V751.7H861.91V746.4H863.31V748.1H864.70V754.2H866.10V751.2H867.50V748.0H868.89V753.5H870.29V751.4H871.68V749.0H873.08V749.2H874.48V747.6H875.87V746.8H877.27V748.4H878.67V750.6H880.06V749.6H881.46V749.2H882.85V749.7H884.25V748.5H885.65V746.0H887.04V745.1H888.44V747.7H889.84V754.1H891.23V753.3H892.63V750.5H894.02V756.3H895.42V756.8H896.82V758.7H898.21V757.6H899.61V757.7H901.01V754.8H902.40V751.3H903.80V747.1H905.19V746.2H906.59V749.0H907.99V749.3H909.38V752.8H910.78V752.3H912.18V754.0H913.57V760.2H914.97V756.4H916.37V753.8H917.76V751.0H919.16V751.2H920.55V752.4H921.95V748.4H923.35V751.3H924.74V754.7H926.14V758.8H927.54V761.3H928.93V759.6H930.33V757.1H931.72V760.7H933.12V763.2H934.52V761.4H935.91V766.8H937.31V761.6H938.71V765.4H940.10V766.5H941.50V759.1H942.89V758.5H944.29V753.6H945.69V750.4H947.08V751.9H948.48V755.3H949.88V756.8H951.27V763.0H952.67V763.1H954.07V753.1H955.46V729.4H956.86V705.6H958.25V711.0H959.65V728.5H961.05V741.9H962.44V754.0H963.84V755.8H965.24V755.0H966.63V750.6H968.03V755.1H969.42V760.4H970.82V757.6H972.22V761.0H973.61V759.6H975.01V753.4H976.41V751.3H977.80V751.1H979.20V758.4H980.59V755.0H981.99V757.0H983.39V755.2H984.78V755.3H986.18V758.4H987.58V758.1H988.97V760.1H990.37V753.3H991.76V760.8H993.16V757.7H994.56V759.4H995.95V760.0H997.35V758.1H998.75V757.4H1000.14V756.4H1001.54V759.0H1002.93V759.6H1004.33V755.6H1005.73V755.0H1007.12V754.3H1008.52V753.9H1009.92V758.4H1011.31V756.9H1012.71V761.3H1014.11V762.2H1015.50V758.6H1016.90V756.5H1018.29V757.4H1019.69V760.5H1021.09V762.1H1022.48V764.0H1023.88V765.6H1025.28V764.2H1026.67V755.3H1028.07V756.8H1029.46V759.3H1030.86V759.5H1032.26V763.1H1033.65V759.2H1035.05V759.2H1036.45V758.5H1037.84V759.5H1039.24V761.1H1040.63V760.6H1042.03V760.9H1043.43V760.1H1044.82V757.9H1046.22V761.5H1047.62V760.3H1049.01V759.4H1050.41V756.3H1051.81V761.5H1053.20V759.4H1054.60V754.7H1055.99V753.8H1057.39V757.9H1058.79V763.3H1060.18V764.2H1061.58V764.0H1062.98V764.3H1064.37V759.1H1065.77V758.7H1067.16V761.5H1068.56V760.2H1069.96V759.5H1071.35V760.0H1072.75V766.4H1074.15V767.6H1075.54V765.3H1076.94V768.6H1078.33V771.0H1079.73V771.9H1081.13V773.3H1082.52V767.3H1083.92V758.8H1085.32V762.5H1086.71V764.5H1088.11V767.2H1089.50V767.6H1090.90V767.9H1092.30V762.8H1093.69V764.7H1095.09V766.3H1096.49V765.7H1097.88V771.0H1099.28V766.3H1100.67V766.2H1102.07V769.3H1103.47V769.5H1104.86V766.4H1106.26V761.0H1107.66V761.6H1109.05V768.9H1110.45V766.1H1111.85V751.7H1113.24V739.0H1114.64V727.7H1116.03V738.1H1117.43V762.1H1118.83V760.5H1120.22V757.2H1121.62V753.7H1123.02V753.4H1124.41V755.3H1125.81V754.7H1127.20V759.8H1128.60V754.1H1130.00V756.5H1131.39V755.6H1132.79V762.0H1134.19V767.2H1135.58V771.0H1136.98V772.1H1138.37V769.8H1139.77V768.1H1141.17V773.0H1142.56V767.2H1143.96V766.1H1145.36V772.8H1146.75V775.2H1148.15V772.7H1149.55V770.8H1150.94V767.6H1152.34V771.4H1153.73V769.9H1155.13V770.1H1156.53V767.6H1157.92V773.8H1159.32V775.2H1160.72V778.4H1162.11V776.9H1163.51V776.2H1164.90V772.6H1166.30V775.6H1167.70V779.8H1169.09V778.2H1170.49V771.6H1171.89V777.1H1173.28V778.6H1174.68V777.9H1176.07V782.1H1177.47V780.6H1178.87V771.6H1180.26V777.4H1181.66V775.2H1183.06V773.0H1184.45V772.6H1185.85V772.5H1187.24V776.0H1188.64V779.8H1190.04V775.6H1191.43V773.2H1192.83V774.2H1194.23V773.4H1195.62V779.3H1197.02V780.2H1198.41V777.9H1199.81V775.9H1201.21V779.3H1202.60V781.2H1204.00V784.6H1205.40V782.8H1206.79V779.8H1208.19V773.2H1209.59V775.7H1210.98V778.7H1212.38V773.1H1213.77V771.5H1215.17V769.2H1216.57V769.8H1217.96V768.6H1219.36V769.1H1220.76V772.3H1222.15V777.5H1222.85" stroke="#cc00cc" stroke-width="1.2"/>
</g>
<g fill="none">
<path d="M734.15 556.60V832.00H1223.35" stroke="#000" stroke-width="1.3"/>
<path d="M734.15 557.10h12.2M734.15 605.14h5.8M734.15 593.03h5.8M734.15 584.45h5.8M734.15 577.79h5.8M734.15 572.35h5.8M734.15 567.75h5.8M734.15 563.76h5.8M734.15 560.24h5.8M734.15 625.83h12.2M734.15 673.86h5.8M734.15 661.76h5.8M734.15 653.17h5.8M734.15 646.51h5.8M734.15 641.07h5.8M734.15 636.47h5.8M734.15 632.49h5.8M734.15 628.97h5.8M734.15 694.55h12.2M734.15 742.59h5.8M734.15 730.48h5.8M734.15 721.90h5.8M734.15 715.24h5.8M734.15 709.80h5.8M734.15 705.20h5.8M734.15 701.21h5.8M734.15 697.69h5.8M734.15 763.27h12.2M734.15 811.31h5.8M734.15 799.21h5.8M734.15 790.62h5.8M734.15 783.96h5.8M734.15 778.52h5.8M734.15 773.92h5.8M734.15 769.94h5.8M734.15 766.42h5.8M734.15 832.00h12.2M734.15 832.00v-6.4M769.06 832.00v-6.4M803.96 832.00v-12.2M838.87 832.00v-6.4M873.78 832.00v-6.4M908.69 832.00v-6.4M943.59 832.00v-12.2M978.50 832.00v-6.4M1013.41 832.00v-6.4M1048.31 832.00v-6.4M1083.22 832.00v-12.2M1118.13 832.00v-6.4M1153.04 832.00v-6.4M1187.94 832.00v-6.4M1222.85 832.00v-12.2" stroke="#000" stroke-width="1"/>
<text x="728.9" y="566.4" class="tk te" text-anchor="end">10<tspan class="ex" dy="-10.0">2</tspan></text>
<text x="728.1" y="632.5" class="tk" text-anchor="end">10</text>
<text x="728.1" y="701.2" class="tk" text-anchor="end">1</text>
<text x="728.9" y="772.6" class="tk te" text-anchor="end">10<tspan class="ex" dy="-10.0">-1</tspan></text>
<text x="728.9" y="841.3" class="tk te" text-anchor="end">10<tspan class="ex" dy="-10.0">-2</tspan></text>
<text x="801.6" y="850.2" class="tk" text-anchor="middle">50</text>
<text x="941.2" y="850.2" class="tk" text-anchor="middle">52</text>
<text x="1080.8" y="850.2" class="tk" text-anchor="middle">54</text>
<text x="1220.4" y="850.2" class="tk" text-anchor="middle">56</text>
<text x="1220.1" y="875.6" class="hz" text-anchor="end">Hz</text>
<text class="yt" text-anchor="end" transform="translate(661.9 556.5) rotate(-90) scale(1 1.08)">A/sqrt(Hz)</text>
</g>
<rect x="829.0" y="508.5" width="412.2" height="86" fill="#fff" stroke="#000" stroke-width="1.2"/>
<path d="M843.5 523.4H917.5" stroke="#6666ff" stroke-width="1.25"/>
<text x="931.5" y="527.7" class="lg">ENV_CEB_IPS_CURR_R_2000Hz</text>
<path d="M843.5 552.1H917.5" stroke="#ff6a0a" stroke-width="1.25"/>
<text x="931.5" y="556.4" class="lg">ENV_CEB_IPS_CURR_S_2000Hz</text>
<path d="M843.5 581.0H917.5" stroke="#0a9a0a" stroke-width="1.25"/>
<text x="931.5" y="585.3" class="lg">ENV_CEB_IPS_CURR_T_2000Hz</text>
<text x="944.0" y="905.2" class="f1" text-anchor="middle">1454270763.0000 Feb 4 2026 20:05:45 UTC</text>
<text class="f2" text-anchor="middle" transform="translate(943.8 933.3) scale(1 1.04)">1456690098.00 Mar 4 2026 20:08:00 UTC dt:50s nAv:97</text>
</svg>
</body></html>
